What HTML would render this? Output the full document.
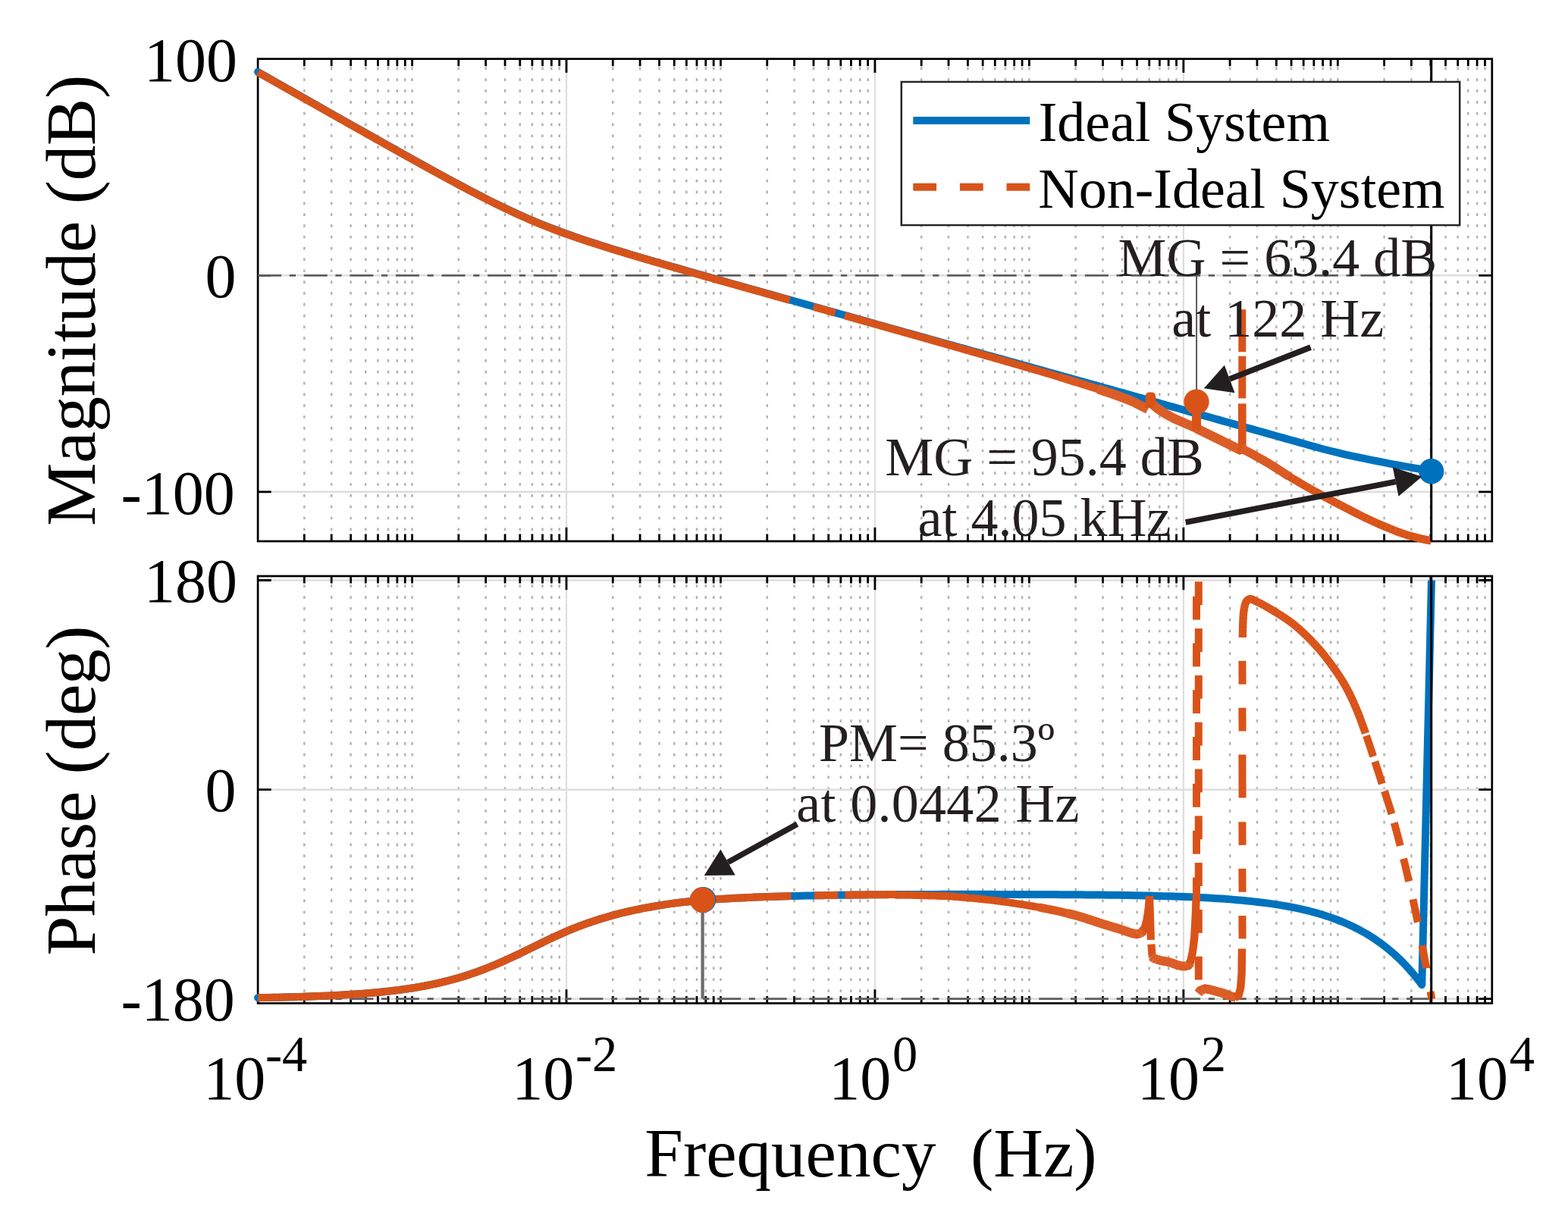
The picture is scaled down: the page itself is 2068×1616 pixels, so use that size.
<!DOCTYPE html>
<html lang="en">
<head>
<meta charset="utf-8">
<title>Bode plot: Ideal System vs Non-Ideal System</title>
<style>
html,body{margin:0;padding:0;background:#fff;}
body{width:2068px;height:1616px;overflow:hidden;}
svg{display:block;font-family:"Liberation Serif","DejaVu Serif",serif;}
</style>
</head>
<body>
<svg width="2068" height="1616" viewBox="0 0 2068 1616" role="img" aria-label="Bode plot comparing Ideal System and Non-Ideal System">
<rect x="0" y="0" width="2068" height="1616" fill="#fff"/>
<path d="M401.35,88.44 V714.00 M437.18,88.44 V714.00 M462.60,88.44 V714.00 M482.31,88.44 V714.00 M498.42,88.44 V714.00 M512.05,88.44 V714.00 M523.84,88.44 V714.00 M534.25,88.44 V714.00 M543.56,88.44 V714.00 M604.81,88.44 V714.00 M640.64,88.44 V714.00 M666.06,88.44 V714.00 M685.78,88.44 V714.00 M701.89,88.44 V714.00 M715.51,88.44 V714.00 M727.31,88.44 V714.00 M737.72,88.44 V714.00 M808.27,88.44 V714.00 M844.10,88.44 V714.00 M869.52,88.44 V714.00 M889.24,88.44 V714.00 M905.35,88.44 V714.00 M918.97,88.44 V714.00 M930.77,88.44 V714.00 M941.18,88.44 V714.00 M950.49,88.44 V714.00 M1011.74,88.44 V714.00 M1047.56,88.44 V714.00 M1072.98,88.44 V714.00 M1092.70,88.44 V714.00 M1108.81,88.44 V714.00 M1122.43,88.44 V714.00 M1134.23,88.44 V714.00 M1144.64,88.44 V714.00 M1215.20,88.44 V714.00 M1251.03,88.44 V714.00 M1276.45,88.44 V714.00 M1296.16,88.44 V714.00 M1312.27,88.44 V714.00 M1325.90,88.44 V714.00 M1337.69,88.44 V714.00 M1348.10,88.44 V714.00 M1357.41,88.44 V714.00 M1418.66,88.44 V714.00 M1454.49,88.44 V714.00 M1479.91,88.44 V714.00 M1499.63,88.44 V714.00 M1515.74,88.44 V714.00 M1529.36,88.44 V714.00 M1541.16,88.44 V714.00 M1551.57,88.44 V714.00 M1622.12,88.44 V714.00 M1657.95,88.44 V714.00 M1683.37,88.44 V714.00 M1703.09,88.44 V714.00 M1719.20,88.44 V714.00 M1732.82,88.44 V714.00 M1744.62,88.44 V714.00 M1755.03,88.44 V714.00 M1764.34,88.44 V714.00 M1825.59,88.44 V714.00 M1861.41,88.44 V714.00 M1886.83,88.44 V714.00 M1906.55,88.44 V714.00 M1922.66,88.44 V714.00 M1936.28,88.44 V714.00 M1948.08,88.44 V714.00 M1958.49,88.44 V714.00" fill="none" stroke="#b3b3b3" stroke-width="2.5" stroke-dasharray="3.70 11.13"/>
<line x1="747.02" y1="77.70" x2="747.02" y2="714.00" stroke="#dedede" stroke-width="2.2" />
<line x1="1153.95" y1="77.70" x2="1153.95" y2="714.00" stroke="#dedede" stroke-width="2.2" />
<line x1="1560.88" y1="77.70" x2="1560.88" y2="714.00" stroke="#dedede" stroke-width="2.2" />
<line x1="340.10" y1="363.30" x2="1967.80" y2="363.30" stroke="#dedede" stroke-width="2.6" />
<line x1="340.10" y1="648.90" x2="1967.80" y2="648.90" stroke="#dedede" stroke-width="2.6" />
<rect x="340.10" y="77.70" width="1627.70" height="636.30" fill="none" stroke="#000" stroke-width="2.7"/>
<path d="M401.35,77.70 v9.6 M401.35,714.00 v-9.6 M437.18,77.70 v9.6 M437.18,714.00 v-9.6 M462.60,77.70 v9.6 M462.60,714.00 v-9.6 M482.31,77.70 v9.6 M482.31,714.00 v-9.6 M498.42,77.70 v9.6 M498.42,714.00 v-9.6 M512.05,77.70 v9.6 M512.05,714.00 v-9.6 M523.84,77.70 v9.6 M523.84,714.00 v-9.6 M534.25,77.70 v9.6 M534.25,714.00 v-9.6 M543.56,77.70 v9.6 M543.56,714.00 v-9.6 M604.81,77.70 v9.6 M604.81,714.00 v-9.6 M640.64,77.70 v9.6 M640.64,714.00 v-9.6 M666.06,77.70 v9.6 M666.06,714.00 v-9.6 M685.78,77.70 v9.6 M685.78,714.00 v-9.6 M701.89,77.70 v9.6 M701.89,714.00 v-9.6 M715.51,77.70 v9.6 M715.51,714.00 v-9.6 M727.31,77.70 v9.6 M727.31,714.00 v-9.6 M737.72,77.70 v9.6 M737.72,714.00 v-9.6 M747.02,77.70 v18.3 M747.02,714.00 v-18.3 M808.27,77.70 v9.6 M808.27,714.00 v-9.6 M844.10,77.70 v9.6 M844.10,714.00 v-9.6 M869.52,77.70 v9.6 M869.52,714.00 v-9.6 M889.24,77.70 v9.6 M889.24,714.00 v-9.6 M905.35,77.70 v9.6 M905.35,714.00 v-9.6 M918.97,77.70 v9.6 M918.97,714.00 v-9.6 M930.77,77.70 v9.6 M930.77,714.00 v-9.6 M941.18,77.70 v9.6 M941.18,714.00 v-9.6 M950.49,77.70 v9.6 M950.49,714.00 v-9.6 M1011.74,77.70 v9.6 M1011.74,714.00 v-9.6 M1047.56,77.70 v9.6 M1047.56,714.00 v-9.6 M1072.98,77.70 v9.6 M1072.98,714.00 v-9.6 M1092.70,77.70 v9.6 M1092.70,714.00 v-9.6 M1108.81,77.70 v9.6 M1108.81,714.00 v-9.6 M1122.43,77.70 v9.6 M1122.43,714.00 v-9.6 M1134.23,77.70 v9.6 M1134.23,714.00 v-9.6 M1144.64,77.70 v9.6 M1144.64,714.00 v-9.6 M1153.95,77.70 v18.3 M1153.95,714.00 v-18.3 M1215.20,77.70 v9.6 M1215.20,714.00 v-9.6 M1251.03,77.70 v9.6 M1251.03,714.00 v-9.6 M1276.45,77.70 v9.6 M1276.45,714.00 v-9.6 M1296.16,77.70 v9.6 M1296.16,714.00 v-9.6 M1312.27,77.70 v9.6 M1312.27,714.00 v-9.6 M1325.90,77.70 v9.6 M1325.90,714.00 v-9.6 M1337.69,77.70 v9.6 M1337.69,714.00 v-9.6 M1348.10,77.70 v9.6 M1348.10,714.00 v-9.6 M1357.41,77.70 v9.6 M1357.41,714.00 v-9.6 M1418.66,77.70 v9.6 M1418.66,714.00 v-9.6 M1454.49,77.70 v9.6 M1454.49,714.00 v-9.6 M1479.91,77.70 v9.6 M1479.91,714.00 v-9.6 M1499.63,77.70 v9.6 M1499.63,714.00 v-9.6 M1515.74,77.70 v9.6 M1515.74,714.00 v-9.6 M1529.36,77.70 v9.6 M1529.36,714.00 v-9.6 M1541.16,77.70 v9.6 M1541.16,714.00 v-9.6 M1551.57,77.70 v9.6 M1551.57,714.00 v-9.6 M1560.88,77.70 v18.3 M1560.88,714.00 v-18.3 M1622.12,77.70 v9.6 M1622.12,714.00 v-9.6 M1657.95,77.70 v9.6 M1657.95,714.00 v-9.6 M1683.37,77.70 v9.6 M1683.37,714.00 v-9.6 M1703.09,77.70 v9.6 M1703.09,714.00 v-9.6 M1719.20,77.70 v9.6 M1719.20,714.00 v-9.6 M1732.82,77.70 v9.6 M1732.82,714.00 v-9.6 M1744.62,77.70 v9.6 M1744.62,714.00 v-9.6 M1755.03,77.70 v9.6 M1755.03,714.00 v-9.6 M1764.34,77.70 v9.6 M1764.34,714.00 v-9.6 M1825.59,77.70 v9.6 M1825.59,714.00 v-9.6 M1861.41,77.70 v9.6 M1861.41,714.00 v-9.6 M1886.83,77.70 v9.6 M1886.83,714.00 v-9.6 M1906.55,77.70 v9.6 M1906.55,714.00 v-9.6 M1922.66,77.70 v9.6 M1922.66,714.00 v-9.6 M1936.28,77.70 v9.6 M1936.28,714.00 v-9.6 M1948.08,77.70 v9.6 M1948.08,714.00 v-9.6 M1958.49,77.70 v9.6 M1958.49,714.00 v-9.6 M340.10,363.30 h17.6 M1967.80,363.30 h-17.6 M340.10,648.90 h17.6 M1967.80,648.90 h-17.6" fill="none" stroke="#000" stroke-width="2.8"/>
<line x1="340.10" y1="363.30" x2="1887.70" y2="363.30" stroke="#5f5f5f" stroke-width="2.8" stroke-dasharray="31 10.7 8.2 10.7"/>
<line x1="1578.10" y1="363.30" x2="1578.10" y2="530.00" stroke="#595959" stroke-width="2.0" />
<path d="M340.10,94.94 L346.08,98.33 L352.05,101.72 L358.03,105.11 L364.00,108.50 L369.98,111.88 L375.95,115.27 L381.93,118.66 L387.90,122.05 L393.88,125.43 L399.85,128.82 L405.83,132.21 L411.80,135.59 L417.78,138.97 L423.75,142.36 L429.73,145.74 L435.70,149.12 L441.68,152.49 L447.66,155.87 L453.63,159.25 L459.61,162.62 L465.58,165.99 L471.56,169.37 L477.53,172.73 L483.51,176.10 L489.48,179.46 L495.46,182.82 L501.43,186.18 L507.41,189.54 L513.38,192.89 L519.36,196.23 L525.33,199.58 L531.31,202.91 L537.28,206.24 L543.26,209.57 L549.24,212.89 L555.21,216.20 L561.19,219.50 L567.16,222.79 L573.14,226.07 L579.11,229.34 L585.09,232.60 L591.06,235.85 L597.04,239.08 L603.01,242.29 L608.99,245.48 L614.96,248.66 L620.94,251.81 L626.91,254.93 L632.89,258.02 L638.86,261.08 L644.84,264.11 L650.82,267.10 L656.79,270.05 L662.77,272.96 L668.74,275.82 L674.72,278.63 L680.69,281.39 L686.67,284.10 L692.64,286.75 L698.62,289.35 L704.59,291.89 L710.57,294.38 L716.54,296.81 L722.52,299.18 L728.49,301.51 L734.47,303.77 L740.44,305.99 L746.42,308.16 L752.39,310.29 L758.37,312.37 L764.35,314.42 L770.32,316.43 L776.30,318.41 L782.27,320.36 L788.25,322.28 L794.22,324.18 L800.20,326.06 L806.17,327.91 L812.15,329.75 L818.12,331.58 L824.10,333.39 L830.07,335.18 L836.05,336.97 L842.02,338.74 L848.00,340.50 L853.97,342.26 L859.95,344.01 L865.93,345.75 L871.90,347.49 L877.88,349.22 L883.85,350.95 L889.83,352.67 L895.80,354.39 L901.78,356.10 L907.75,357.81 L913.73,359.51 L919.70,361.22 L925.68,362.92 L931.65,364.61 L937.63,366.30 L943.60,367.99 L949.58,369.68 L955.55,371.36 L961.53,373.04 L967.51,374.73 L973.48,376.41 L979.46,378.09 L985.43,379.77 L991.41,381.45 L997.38,383.13 L1003.36,384.81 L1009.33,386.49 L1015.31,388.17 L1021.28,389.85 L1027.26,391.53 L1033.23,393.20 L1039.21,394.88 L1045.18,396.56 L1051.16,398.24 L1057.13,399.92 L1063.11,401.59 L1069.09,403.27 L1075.06,404.95 L1081.04,406.63 L1087.01,408.31 L1092.99,409.98 L1098.96,411.66 L1104.94,413.34 L1110.91,415.02 L1116.89,416.69 L1122.86,418.37 L1128.84,420.05 L1134.81,421.73 L1140.79,423.41 L1146.76,425.08 L1152.74,426.76 L1158.71,428.44 L1164.69,430.11 L1170.67,431.79 L1176.64,433.46 L1182.62,435.13 L1188.59,436.80 L1194.57,438.48 L1200.54,440.15 L1206.52,441.81 L1212.49,443.48 L1218.47,445.15 L1224.44,446.82 L1230.42,448.48 L1236.39,450.15 L1242.37,451.81 L1248.34,453.48 L1254.32,455.14 L1260.29,456.81 L1266.27,458.47 L1272.25,460.13 L1278.22,461.80 L1284.20,463.46 L1290.17,465.12 L1296.15,466.78 L1302.12,468.45 L1308.10,470.11 L1314.07,471.77 L1320.05,473.43 L1326.02,475.09 L1332.00,476.75 L1337.97,478.42 L1343.95,480.08 L1349.92,481.74 L1355.90,483.40 L1361.87,485.06 L1367.85,486.73 L1373.83,488.39 L1379.80,490.05 L1385.78,491.72 L1391.75,493.38 L1397.73,495.05 L1403.70,496.71 L1409.68,498.38 L1415.65,500.04 L1421.63,501.71 L1427.60,503.38 L1433.58,505.05 L1439.55,506.72 L1445.53,508.39 L1451.50,510.06 L1457.48,511.73 L1463.45,513.40 L1469.43,515.07 L1475.41,516.75 L1481.38,518.42 L1487.36,520.10 L1493.33,521.78 L1499.31,523.46 L1505.28,525.13 L1511.26,526.81 L1517.23,528.49 L1523.21,530.17 L1529.18,531.84 L1535.16,533.52 L1541.13,535.20 L1547.11,536.88 L1553.08,538.55 L1559.06,540.23 L1565.03,541.91 L1571.01,543.59 L1576.98,545.26 L1582.96,546.94 L1588.94,548.62 L1594.91,550.30 L1600.89,551.97 L1606.86,553.65 L1612.84,555.33 L1618.81,557.01 L1624.79,558.68 L1630.76,560.36 L1636.74,562.04 L1642.71,563.72 L1648.69,565.39 L1654.66,567.07 L1660.64,568.75 L1666.61,570.43 L1672.59,572.10 L1678.56,573.78 L1684.54,575.46 L1690.52,577.14 L1696.49,578.81 L1702.47,580.49 L1708.44,582.17 L1714.42,583.85 L1720.39,585.52 L1726.37,587.20 L1732.34,588.88 L1738.32,590.56 L1744.29,592.20 L1750.27,593.75 L1756.24,595.23 L1762.22,596.68 L1768.19,598.12 L1774.17,599.52 L1780.14,600.87 L1786.12,602.17 L1792.10,603.43 L1798.07,604.67 L1804.05,605.88 L1810.02,607.08 L1816.00,608.27 L1821.97,609.45 L1827.95,610.64 L1833.92,611.80 L1839.90,612.93 L1845.87,614.04 L1851.85,615.13 L1857.82,616.20 L1863.80,617.26 L1869.77,618.30 L1875.75,619.32 L1881.72,620.32 L1887.70,621.29" fill="none" stroke="#0072BD" stroke-width="10.0" stroke-linecap="round" stroke-linejoin="round"/>
<path d="M340.10,95.24 L344.81,97.91 L349.51,100.58 L354.22,103.25 L358.93,105.92 L363.64,108.59 L368.34,111.26 L373.05,113.93 L377.76,116.60 L382.47,119.27 L387.17,121.94 L391.88,124.60 L396.59,127.27 L401.30,129.94 L406.00,132.60 L410.71,135.27 L415.42,137.94 L420.13,140.60 L424.83,143.27 L429.54,145.93 L434.25,148.59 L438.96,151.26 L443.66,153.92 L448.37,156.58 L453.08,159.24 L457.78,161.90 L462.49,164.55 L467.20,167.21 L471.91,169.86 L476.61,172.52 L481.32,175.17 L486.03,177.82 L490.74,180.47 L495.44,183.12 L500.15,185.76 L504.86,188.41 L509.57,191.05 L514.27,193.69 L518.98,196.32 L523.69,198.96 L528.40,201.59 L533.10,204.22 L537.81,206.84 L542.52,209.46 L547.22,212.07 L551.93,214.69 L556.64,217.29 L561.35,219.89 L566.05,222.49 L570.76,225.07 L575.47,227.66 L580.18,230.23 L584.88,232.80 L589.59,235.36 L594.30,237.91 L599.01,240.45 L603.71,242.97 L608.42,245.49 L613.13,247.99 L617.84,250.48 L622.54,252.95 L627.25,255.41 L631.96,257.85 L636.67,260.27 L641.37,262.67 L646.08,265.04 L650.79,267.40 L655.49,269.72 L660.20,272.03 L664.91,274.30 L669.62,276.54 L674.32,278.76 L679.03,280.94 L683.74,283.09 L688.45,285.21 L693.15,287.29 L697.86,289.34 L702.57,291.35 L707.28,293.33 L711.98,295.28 L716.69,297.19 L721.40,299.06 L726.11,300.90 L730.81,302.71 L735.52,304.48 L740.23,306.23 L744.93,307.95 L749.64,309.63 L754.35,311.29 L759.06,312.93 L763.76,314.54 L768.47,316.13 L773.18,317.70 L777.89,319.25 L782.59,320.79 L787.30,322.30 L792.01,323.80 L796.72,325.29 L801.42,326.77 L806.13,328.23 L810.84,329.68 L815.55,331.12 L820.25,332.55 L824.96,333.97 L829.67,335.39 L834.38,336.80 L839.08,338.20 L843.79,339.59 L848.50,340.98 L853.20,342.37 L857.91,343.75 L862.62,345.12 L867.33,346.50 L872.03,347.86 L876.74,349.23 L881.45,350.59 L886.16,351.95 L890.86,353.31 L895.57,354.66 L900.28,356.01 L904.99,357.36 L909.69,358.71 L914.40,360.05 L919.11,361.39 L923.82,362.73 L928.52,364.07 L933.23,365.40 L937.94,366.74 L942.64,368.07 L947.35,369.40 L952.06,370.73 L956.77,372.05 L961.47,373.38 L966.18,374.71 L970.89,376.03 L975.60,377.36 L980.30,378.68 L985.01,380.01 L989.72,381.33 L994.43,382.66 L999.13,383.98 L1003.84,385.31 L1008.55,386.63 L1013.26,387.95 L1017.96,389.28 L1022.67,390.60 L1027.38,391.93 L1032.09,393.25 L1036.79,394.57 L1041.50,395.90" fill="none" stroke="#D95319" stroke-width="10.0" stroke-linejoin="round"/>
<path d="M340.10,95.24 L344.81,97.91 L349.51,100.58 L354.22,103.25 L358.93,105.92 L363.64,108.59 L368.34,111.26 L373.05,113.93 L377.76,116.60 L382.47,119.27 L387.17,121.94 L391.88,124.60 L396.59,127.27 L401.30,129.94 L406.00,132.60 L410.71,135.27 L415.42,137.94 L420.13,140.60 L424.83,143.27 L429.54,145.93 L434.25,148.59 L438.96,151.26 L443.66,153.92 L448.37,156.58 L453.08,159.24 L457.78,161.90 L462.49,164.55 L467.20,167.21 L471.91,169.86 L476.61,172.52 L481.32,175.17 L486.03,177.82 L490.74,180.47 L495.44,183.12 L500.15,185.76 L504.86,188.41 L509.57,191.05 L514.27,193.69 L518.98,196.32 L523.69,198.96 L528.40,201.59 L533.10,204.22 L537.81,206.84 L542.52,209.46 L547.22,212.07 L551.93,214.69 L556.64,217.29 L561.35,219.89 L566.05,222.49 L570.76,225.07 L575.47,227.66 L580.18,230.23 L584.88,232.80 L589.59,235.36 L594.30,237.91 L599.01,240.45 L603.71,242.97 L608.42,245.49 L613.13,247.99 L617.84,250.48 L622.54,252.95 L627.25,255.41 L631.96,257.85 L636.67,260.27 L641.37,262.67 L646.08,265.04 L650.79,267.40 L655.49,269.72 L660.20,272.03 L664.91,274.30 L669.62,276.54 L674.32,278.76 L679.03,280.94 L683.74,283.09 L688.45,285.21 L693.15,287.29 L697.86,289.34 L702.57,291.35 L707.28,293.33 L711.98,295.28 L716.69,297.19 L721.40,299.06 L726.11,300.90 L730.81,302.71 L735.52,304.48 L740.23,306.23 L744.93,307.95 L749.64,309.63 L754.35,311.29 L759.06,312.93 L763.76,314.54 L768.47,316.13 L773.18,317.70 L777.89,319.25 L782.59,320.79 L787.30,322.30 L792.01,323.80 L796.72,325.29 L801.42,326.77 L806.13,328.23 L810.84,329.68 L815.55,331.12 L820.25,332.55 L824.96,333.97 L829.67,335.39 L834.38,336.80 L839.08,338.20 L843.79,339.59 L848.50,340.98 L853.20,342.37 L857.91,343.75 L862.62,345.12 L867.33,346.50 L872.03,347.86 L876.74,349.23 L881.45,350.59 L886.16,351.95 L890.86,353.31 L895.57,354.66 L900.28,356.01 L904.99,357.36 L909.69,358.71 L914.40,360.05 L919.11,361.39 L923.82,362.73 L928.52,364.07 L933.23,365.40 L937.94,366.74 L942.64,368.07 L947.35,369.40 L952.06,370.73 L956.77,372.05 L961.47,373.38 L966.18,374.71 L970.89,376.03 L975.60,377.36 L980.30,378.68 L985.01,380.01 L989.72,381.33 L994.43,382.66 L999.13,383.98 L1003.84,385.31 L1008.55,386.63 L1013.26,387.95 L1017.96,389.28 L1022.67,390.60 L1027.38,391.93 L1032.09,393.25 L1036.79,394.57 L1041.50,395.90" fill="none" stroke="#7a5a4a" stroke-width="10.0" stroke-opacity="0.45" stroke-dasharray="0.6 13.2"/>
<path d="M1072.80,404.69 L1075.99,405.59 L1079.18,406.49 L1082.37,407.38 L1085.56,408.28 L1088.74,409.18 L1091.93,410.07 L1095.12,410.97 L1098.31,411.86 L1101.50,412.76" fill="none" stroke="#D95319" stroke-width="10.0" stroke-linejoin="round"/>
<path d="M1114.00,416.27 L1118.85,417.64 L1123.69,419.00 L1128.54,420.36 L1133.39,421.72 L1138.24,423.09 L1143.08,424.45 L1147.93,425.81 L1152.78,427.17 L1157.63,428.54 L1162.47,429.90 L1167.32,431.27 L1172.17,432.64 L1177.02,434.01 L1181.86,435.38 L1186.71,436.75 L1191.56,438.13 L1196.41,439.50 L1201.25,440.88 L1206.10,442.25 L1210.95,443.63 L1215.80,445.01 L1220.64,446.39 L1225.49,447.77 L1230.34,449.15 L1235.19,450.53 L1240.03,451.91 L1244.88,453.29 L1249.73,454.67 L1254.58,456.05 L1259.42,457.43 L1264.27,458.81 L1269.12,460.19 L1273.97,461.57 L1278.81,462.95 L1283.66,464.34 L1288.51,465.72 L1293.36,467.10 L1298.20,468.49 L1303.05,469.88 L1307.90,471.27 L1312.75,472.66 L1317.59,474.05 L1322.44,475.45 L1327.29,476.85 L1332.14,478.25 L1336.98,479.65 L1341.83,481.06 L1346.68,482.46 L1351.53,483.87 L1356.37,485.29 L1361.22,486.70 L1366.07,488.12 L1370.92,489.54 L1375.76,490.96 L1380.61,492.39 L1385.46,493.82 L1390.31,495.26 L1395.15,496.71 L1400.00,498.17" fill="none" stroke="#D95319" stroke-width="10.0" stroke-linejoin="round"/>
<path d="M1114.00,416.27 L1118.85,417.64 L1123.69,419.00 L1128.54,420.36 L1133.39,421.72 L1138.24,423.09 L1143.08,424.45 L1147.93,425.81 L1152.78,427.17 L1157.63,428.54 L1162.47,429.90 L1167.32,431.27 L1172.17,432.64 L1177.02,434.01 L1181.86,435.38 L1186.71,436.75 L1191.56,438.13 L1196.41,439.50 L1201.25,440.88 L1206.10,442.25 L1210.95,443.63 L1215.80,445.01 L1220.64,446.39 L1225.49,447.77 L1230.34,449.15 L1235.19,450.53 L1240.03,451.91 L1244.88,453.29 L1249.73,454.67 L1254.58,456.05 L1259.42,457.43 L1264.27,458.81 L1269.12,460.19 L1273.97,461.57 L1278.81,462.95 L1283.66,464.34 L1288.51,465.72 L1293.36,467.10 L1298.20,468.49 L1303.05,469.88 L1307.90,471.27 L1312.75,472.66 L1317.59,474.05 L1322.44,475.45 L1327.29,476.85 L1332.14,478.25 L1336.98,479.65 L1341.83,481.06 L1346.68,482.46 L1351.53,483.87 L1356.37,485.29 L1361.22,486.70 L1366.07,488.12 L1370.92,489.54 L1375.76,490.96 L1380.61,492.39 L1385.46,493.82 L1390.31,495.26 L1395.15,496.71 L1400.00,498.17" fill="none" stroke="#7a5a4a" stroke-width="10.0" stroke-opacity="0.45" stroke-dasharray="0.6 13.2"/>
<path d="M1398.00,497.57 L1402.73,498.99 L1407.45,500.42 L1412.18,501.86 L1416.91,503.31 L1421.64,504.76 L1426.36,506.23 L1431.09,507.71 L1435.82,509.21 L1440.55,510.72 L1445.27,512.25 L1450.00,513.80" fill="none" stroke="#D95319" stroke-width="10.6" stroke-linejoin="round"/>
<path d="M1398.00,497.57 L1402.73,498.99 L1407.45,500.42 L1412.18,501.86 L1416.91,503.31 L1421.64,504.76 L1426.36,506.23 L1431.09,507.71 L1435.82,509.21 L1440.55,510.72 L1445.27,512.25 L1450.00,513.80" fill="none" stroke="#fff" stroke-width="11.2" stroke-linejoin="round" stroke-opacity="0.15" stroke-dasharray="0.45 1.55"/>
<path d="M1448.00,513.14 L1452.40,514.60 L1456.80,516.07 L1461.20,517.57 L1465.60,519.09 L1470.00,520.64 L1474.40,522.21 L1478.80,523.82 L1483.20,525.45 L1487.60,527.12 L1492.00,528.87 L1496.40,530.95 L1500.80,533.25 L1505.20,535.54 L1509.60,537.78 L1514.00,540.05" fill="none" stroke="#D95319" stroke-width="12.4" stroke-linejoin="round"/>
<path d="M1448.00,513.14 L1452.40,514.60 L1456.80,516.07 L1461.20,517.57 L1465.60,519.09 L1470.00,520.64 L1474.40,522.21 L1478.80,523.82 L1483.20,525.45 L1487.60,527.12 L1492.00,528.87 L1496.40,530.95 L1500.80,533.25 L1505.20,535.54 L1509.60,537.78 L1514.00,540.05" fill="none" stroke="#fff" stroke-width="13.0" stroke-linejoin="round" stroke-opacity="0.28" stroke-dasharray="0.45 1.55"/>
<path d="M1518.00,531.00 L1522.03,535.08 L1526.07,538.41 L1530.10,541.34 L1534.13,544.00 L1538.17,546.44 L1542.20,548.72 L1546.23,550.86 L1550.27,552.83 L1554.30,554.67 L1558.33,556.43 L1562.37,558.14 L1566.40,559.87 L1570.43,561.61 L1574.47,563.32 L1578.50,565.00" fill="none" stroke="#D95319" stroke-width="12.4" stroke-linejoin="round"/>
<path d="M1518.00,531.00 L1522.03,535.08 L1526.07,538.41 L1530.10,541.34 L1534.13,544.00 L1538.17,546.44 L1542.20,548.72 L1546.23,550.86 L1550.27,552.83 L1554.30,554.67 L1558.33,556.43 L1562.37,558.14 L1566.40,559.87 L1570.43,561.61 L1574.47,563.32 L1578.50,565.00" fill="none" stroke="#fff" stroke-width="13.0" stroke-linejoin="round" stroke-opacity="0.28" stroke-dasharray="0.45 1.55"/>
<path d="M1515.60,538.00 L1515.60,522.50 L1519.20,522.50 L1519.20,534.00" fill="none" stroke="#D95319" stroke-width="10.0" stroke-linejoin="round"/>
<path d="M1577.50,565.00 L1581.57,566.94 L1585.63,568.90 L1589.70,570.86 L1593.77,572.84 L1597.83,574.84 L1601.90,576.84 L1605.97,578.83 L1610.03,580.83 L1614.10,582.83 L1618.17,584.83 L1622.23,586.83 L1626.30,588.83 L1630.37,590.82 L1634.43,592.81 L1638.50,594.80" fill="none" stroke="#D95319" stroke-width="12.4" stroke-linejoin="round"/>
<path d="M1577.50,565.00 L1581.57,566.94 L1585.63,568.90 L1589.70,570.86 L1593.77,572.84 L1597.83,574.84 L1601.90,576.84 L1605.97,578.83 L1610.03,580.83 L1614.10,582.83 L1618.17,584.83 L1622.23,586.83 L1626.30,588.83 L1630.37,590.82 L1634.43,592.81 L1638.50,594.80" fill="none" stroke="#fff" stroke-width="13.0" stroke-linejoin="round" stroke-opacity="0.28" stroke-dasharray="0.45 1.55"/>
<path d="M1578.00,568.00 L1578.00,530.00" fill="none" stroke="#D95319" stroke-width="12.0" stroke-linejoin="round"/>
<path d="M1638.30,599.00 L1638.30,532.40" fill="none" stroke="#D95319" stroke-width="10.6" stroke-linejoin="round"/>
<path d="M1638.30,525.50 L1638.30,469.80" fill="none" stroke="#D95319" stroke-width="10.0" stroke-linejoin="round"/>
<path d="M1638.30,464.30 L1638.30,408.20" fill="none" stroke="#D95319" stroke-width="10.0" stroke-linejoin="round"/>
<path d="M1638.00,592.00 L1642.77,594.41 L1647.54,596.89 L1652.31,599.43 L1657.08,602.04 L1661.85,604.70 L1666.62,607.41 L1671.38,610.18 L1676.15,613.04 L1680.92,616.05 L1685.69,619.14 L1690.46,622.26 L1695.23,625.35 L1700.00,628.36" fill="none" stroke="#D95319" stroke-width="11.6" stroke-linejoin="round"/>
<path d="M1638.00,592.00 L1642.77,594.41 L1647.54,596.89 L1652.31,599.43 L1657.08,602.04 L1661.85,604.70 L1666.62,607.41 L1671.38,610.18 L1676.15,613.04 L1680.92,616.05 L1685.69,619.14 L1690.46,622.26 L1695.23,625.35 L1700.00,628.36" fill="none" stroke="#fff" stroke-width="12.2" stroke-linejoin="round" stroke-opacity="0.22" stroke-dasharray="0.45 1.55"/>
<path d="M1699.00,627.74 L1703.84,630.68 L1708.67,633.56 L1713.51,636.40 L1718.34,639.22 L1723.18,642.01 L1728.02,644.77 L1732.85,647.50 L1737.69,650.20 L1742.52,652.88 L1747.36,655.52 L1752.19,658.13 L1757.03,660.71 L1761.87,663.26 L1766.70,665.78 L1771.54,668.29 L1776.37,670.80 L1781.21,673.29 L1786.05,675.76 L1790.88,678.21 L1795.72,680.62 L1800.55,682.99 L1805.39,685.31 L1810.23,687.57 L1815.06,689.77 L1819.90,691.90 L1824.73,693.96 L1829.57,695.95 L1834.41,697.92 L1839.24,699.84 L1844.08,701.69 L1848.91,703.44 L1853.75,705.09 L1858.58,706.59 L1863.42,707.95 L1868.26,709.23 L1873.09,710.42 L1877.93,711.52 L1882.76,712.51 L1887.60,713.40" fill="none" stroke="#D95319" stroke-width="10.6" stroke-linejoin="round"/>
<path d="M1699.00,627.74 L1703.84,630.68 L1708.67,633.56 L1713.51,636.40 L1718.34,639.22 L1723.18,642.01 L1728.02,644.77 L1732.85,647.50 L1737.69,650.20 L1742.52,652.88 L1747.36,655.52 L1752.19,658.13 L1757.03,660.71 L1761.87,663.26 L1766.70,665.78 L1771.54,668.29 L1776.37,670.80 L1781.21,673.29 L1786.05,675.76 L1790.88,678.21 L1795.72,680.62 L1800.55,682.99 L1805.39,685.31 L1810.23,687.57 L1815.06,689.77 L1819.90,691.90 L1824.73,693.96 L1829.57,695.95 L1834.41,697.92 L1839.24,699.84 L1844.08,701.69 L1848.91,703.44 L1853.75,705.09 L1858.58,706.59 L1863.42,707.95 L1868.26,709.23 L1873.09,710.42 L1877.93,711.52 L1882.76,712.51 L1887.60,713.40" fill="none" stroke="#fff" stroke-width="11.2" stroke-linejoin="round" stroke-opacity="0.12" stroke-dasharray="0.6 6"/>
<line x1="1887.70" y1="77.70" x2="1887.70" y2="714.00" stroke="#000" stroke-width="3.1" />
<circle cx="1578.0" cy="530.1" r="16.7" fill="#D95319"/>
<circle cx="1887.7" cy="621.8" r="16.7" fill="#0072BD"/>
<rect x="1188.8" y="108.0" width="736.4" height="189.0" fill="#fff" stroke="#262626" stroke-width="2.5"/>
<line x1="1204.30" y1="159.00" x2="1358.30" y2="159.00" stroke="#0072BD" stroke-width="10.0" />
<line x1="1204.30" y1="246.80" x2="1358.30" y2="246.80" stroke="#D95319" stroke-width="10.0" stroke-dasharray="30.8 30.8"/>
<text transform="translate(1369.70,186.20) scale(1,1)" font-size="74" text-anchor="start" fill="#000" >Ideal System</text>
<text transform="translate(1369.20,273.80) scale(1,1)" font-size="74" text-anchor="start" fill="#000" >Non-Ideal System</text>
<path d="M401.35,771.35 V1323.50 M437.18,771.35 V1323.50 M462.60,771.35 V1323.50 M482.31,771.35 V1323.50 M498.42,771.35 V1323.50 M512.05,771.35 V1323.50 M523.84,771.35 V1323.50 M534.25,771.35 V1323.50 M543.56,771.35 V1323.50 M604.81,771.35 V1323.50 M640.64,771.35 V1323.50 M666.06,771.35 V1323.50 M685.78,771.35 V1323.50 M701.89,771.35 V1323.50 M715.51,771.35 V1323.50 M727.31,771.35 V1323.50 M737.72,771.35 V1323.50 M808.27,771.35 V1323.50 M844.10,771.35 V1323.50 M869.52,771.35 V1323.50 M889.24,771.35 V1323.50 M905.35,771.35 V1323.50 M918.97,771.35 V1323.50 M930.77,771.35 V1323.50 M941.18,771.35 V1323.50 M950.49,771.35 V1323.50 M1011.74,771.35 V1323.50 M1047.56,771.35 V1323.50 M1072.98,771.35 V1323.50 M1092.70,771.35 V1323.50 M1108.81,771.35 V1323.50 M1122.43,771.35 V1323.50 M1134.23,771.35 V1323.50 M1144.64,771.35 V1323.50 M1215.20,771.35 V1323.50 M1251.03,771.35 V1323.50 M1276.45,771.35 V1323.50 M1296.16,771.35 V1323.50 M1312.27,771.35 V1323.50 M1325.90,771.35 V1323.50 M1337.69,771.35 V1323.50 M1348.10,771.35 V1323.50 M1357.41,771.35 V1323.50 M1418.66,771.35 V1323.50 M1454.49,771.35 V1323.50 M1479.91,771.35 V1323.50 M1499.63,771.35 V1323.50 M1515.74,771.35 V1323.50 M1529.36,771.35 V1323.50 M1541.16,771.35 V1323.50 M1551.57,771.35 V1323.50 M1622.12,771.35 V1323.50 M1657.95,771.35 V1323.50 M1683.37,771.35 V1323.50 M1703.09,771.35 V1323.50 M1719.20,771.35 V1323.50 M1732.82,771.35 V1323.50 M1744.62,771.35 V1323.50 M1755.03,771.35 V1323.50 M1764.34,771.35 V1323.50 M1825.59,771.35 V1323.50 M1861.41,771.35 V1323.50 M1886.83,771.35 V1323.50 M1906.55,771.35 V1323.50 M1922.66,771.35 V1323.50 M1936.28,771.35 V1323.50 M1948.08,771.35 V1323.50 M1958.49,771.35 V1323.50" fill="none" stroke="#b3b3b3" stroke-width="2.5" stroke-dasharray="3.70 11.13"/>
<line x1="747.02" y1="760.00" x2="747.02" y2="1323.50" stroke="#dedede" stroke-width="2.2" />
<line x1="1153.95" y1="760.00" x2="1153.95" y2="1323.50" stroke="#dedede" stroke-width="2.2" />
<line x1="1560.88" y1="760.00" x2="1560.88" y2="1323.50" stroke="#dedede" stroke-width="2.2" />
<line x1="340.10" y1="765.50" x2="1967.80" y2="765.50" stroke="#dedede" stroke-width="2.6" />
<line x1="340.10" y1="1041.70" x2="1967.80" y2="1041.70" stroke="#dedede" stroke-width="2.6" />
<line x1="340.10" y1="1317.60" x2="1967.80" y2="1317.60" stroke="#dedede" stroke-width="2.6" />
<rect x="340.10" y="760.00" width="1627.70" height="563.50" fill="none" stroke="#000" stroke-width="2.7"/>
<path d="M401.35,760.00 v9.6 M401.35,1323.50 v-9.6 M437.18,760.00 v9.6 M437.18,1323.50 v-9.6 M462.60,760.00 v9.6 M462.60,1323.50 v-9.6 M482.31,760.00 v9.6 M482.31,1323.50 v-9.6 M498.42,760.00 v9.6 M498.42,1323.50 v-9.6 M512.05,760.00 v9.6 M512.05,1323.50 v-9.6 M523.84,760.00 v9.6 M523.84,1323.50 v-9.6 M534.25,760.00 v9.6 M534.25,1323.50 v-9.6 M543.56,760.00 v9.6 M543.56,1323.50 v-9.6 M604.81,760.00 v9.6 M604.81,1323.50 v-9.6 M640.64,760.00 v9.6 M640.64,1323.50 v-9.6 M666.06,760.00 v9.6 M666.06,1323.50 v-9.6 M685.78,760.00 v9.6 M685.78,1323.50 v-9.6 M701.89,760.00 v9.6 M701.89,1323.50 v-9.6 M715.51,760.00 v9.6 M715.51,1323.50 v-9.6 M727.31,760.00 v9.6 M727.31,1323.50 v-9.6 M737.72,760.00 v9.6 M737.72,1323.50 v-9.6 M747.02,760.00 v18.3 M747.02,1323.50 v-18.3 M808.27,760.00 v9.6 M808.27,1323.50 v-9.6 M844.10,760.00 v9.6 M844.10,1323.50 v-9.6 M869.52,760.00 v9.6 M869.52,1323.50 v-9.6 M889.24,760.00 v9.6 M889.24,1323.50 v-9.6 M905.35,760.00 v9.6 M905.35,1323.50 v-9.6 M918.97,760.00 v9.6 M918.97,1323.50 v-9.6 M930.77,760.00 v9.6 M930.77,1323.50 v-9.6 M941.18,760.00 v9.6 M941.18,1323.50 v-9.6 M950.49,760.00 v9.6 M950.49,1323.50 v-9.6 M1011.74,760.00 v9.6 M1011.74,1323.50 v-9.6 M1047.56,760.00 v9.6 M1047.56,1323.50 v-9.6 M1072.98,760.00 v9.6 M1072.98,1323.50 v-9.6 M1092.70,760.00 v9.6 M1092.70,1323.50 v-9.6 M1108.81,760.00 v9.6 M1108.81,1323.50 v-9.6 M1122.43,760.00 v9.6 M1122.43,1323.50 v-9.6 M1134.23,760.00 v9.6 M1134.23,1323.50 v-9.6 M1144.64,760.00 v9.6 M1144.64,1323.50 v-9.6 M1153.95,760.00 v18.3 M1153.95,1323.50 v-18.3 M1215.20,760.00 v9.6 M1215.20,1323.50 v-9.6 M1251.03,760.00 v9.6 M1251.03,1323.50 v-9.6 M1276.45,760.00 v9.6 M1276.45,1323.50 v-9.6 M1296.16,760.00 v9.6 M1296.16,1323.50 v-9.6 M1312.27,760.00 v9.6 M1312.27,1323.50 v-9.6 M1325.90,760.00 v9.6 M1325.90,1323.50 v-9.6 M1337.69,760.00 v9.6 M1337.69,1323.50 v-9.6 M1348.10,760.00 v9.6 M1348.10,1323.50 v-9.6 M1357.41,760.00 v9.6 M1357.41,1323.50 v-9.6 M1418.66,760.00 v9.6 M1418.66,1323.50 v-9.6 M1454.49,760.00 v9.6 M1454.49,1323.50 v-9.6 M1479.91,760.00 v9.6 M1479.91,1323.50 v-9.6 M1499.63,760.00 v9.6 M1499.63,1323.50 v-9.6 M1515.74,760.00 v9.6 M1515.74,1323.50 v-9.6 M1529.36,760.00 v9.6 M1529.36,1323.50 v-9.6 M1541.16,760.00 v9.6 M1541.16,1323.50 v-9.6 M1551.57,760.00 v9.6 M1551.57,1323.50 v-9.6 M1560.88,760.00 v18.3 M1560.88,1323.50 v-18.3 M1622.12,760.00 v9.6 M1622.12,1323.50 v-9.6 M1657.95,760.00 v9.6 M1657.95,1323.50 v-9.6 M1683.37,760.00 v9.6 M1683.37,1323.50 v-9.6 M1703.09,760.00 v9.6 M1703.09,1323.50 v-9.6 M1719.20,760.00 v9.6 M1719.20,1323.50 v-9.6 M1732.82,760.00 v9.6 M1732.82,1323.50 v-9.6 M1744.62,760.00 v9.6 M1744.62,1323.50 v-9.6 M1755.03,760.00 v9.6 M1755.03,1323.50 v-9.6 M1764.34,760.00 v9.6 M1764.34,1323.50 v-9.6 M1825.59,760.00 v9.6 M1825.59,1323.50 v-9.6 M1861.41,760.00 v9.6 M1861.41,1323.50 v-9.6 M1886.83,760.00 v9.6 M1886.83,1323.50 v-9.6 M1906.55,760.00 v9.6 M1906.55,1323.50 v-9.6 M1922.66,760.00 v9.6 M1922.66,1323.50 v-9.6 M1936.28,760.00 v9.6 M1936.28,1323.50 v-9.6 M1948.08,760.00 v9.6 M1948.08,1323.50 v-9.6 M1958.49,760.00 v9.6 M1958.49,1323.50 v-9.6 M340.10,765.50 h17.6 M1967.80,765.50 h-17.6 M340.10,1041.70 h17.6 M1967.80,1041.70 h-17.6 M340.10,1317.60 h17.6 M1967.80,1317.60 h-17.6" fill="none" stroke="#000" stroke-width="2.8"/>
<line x1="340.10" y1="1317.60" x2="1887.70" y2="1317.60" stroke="#5f5f5f" stroke-width="2.8" stroke-dasharray="31 10.7 8.2 10.7"/>
<line x1="926.60" y1="1187.00" x2="926.60" y2="1317.60" stroke="#6b6b6b" stroke-width="4.2" />
<clipPath id="cb"><rect x="300" y="765.50" width="1700" height="583.50"/></clipPath>
<g clip-path="url(#cb)">
<path d="M340.10,1316.17 L346.93,1316.06 L353.77,1315.93 L360.60,1315.80 L367.43,1315.65 L374.27,1315.50 L381.10,1315.33 L387.94,1315.15 L394.77,1314.95 L401.60,1314.74 L408.44,1314.51 L415.27,1314.26 L422.10,1313.99 L428.94,1313.70 L435.77,1313.38 L442.61,1313.05 L449.44,1312.68 L456.27,1312.29 L463.11,1311.86 L469.94,1311.40 L476.77,1310.90 L483.61,1310.37 L490.44,1309.79 L497.27,1309.16 L504.11,1308.49 L510.94,1307.76 L517.78,1306.98 L524.61,1306.14 L531.44,1305.23 L538.28,1304.25 L545.11,1303.19 L551.94,1302.06 L558.78,1300.83 L565.61,1299.52 L572.44,1298.11 L579.28,1296.60 L586.11,1294.99 L592.95,1293.26 L599.78,1291.41 L606.61,1289.44 L613.45,1287.35 L620.28,1285.12 L627.11,1282.77 L633.95,1280.28 L640.78,1277.67 L647.62,1274.92 L654.45,1272.06 L661.28,1269.10 L668.12,1266.04 L674.95,1262.89 L681.78,1259.67 L688.62,1256.40 L695.45,1253.08 L702.28,1249.75 L709.12,1246.41 L715.95,1243.09 L722.79,1239.81 L729.62,1236.58 L736.45,1233.43 L743.29,1230.36 L750.12,1227.40 L756.95,1224.58 L763.79,1221.90 L770.62,1219.37 L777.45,1216.96 L784.29,1214.69 L791.12,1212.52 L797.96,1210.45 L804.79,1208.47 L811.62,1206.57 L818.46,1204.78 L825.29,1203.10 L832.12,1201.54 L838.96,1200.08 L845.79,1198.72 L852.63,1197.44 L859.46,1196.21 L866.29,1195.03 L873.13,1193.90 L879.96,1192.84 L886.79,1191.86 L893.63,1190.96 L900.46,1190.15 L907.29,1189.42 L914.13,1188.74 L920.96,1188.12 L927.80,1187.54 L934.63,1187.00 L941.46,1186.51 L948.30,1186.05 L955.13,1185.62 L961.96,1185.23 L968.80,1184.86 L975.63,1184.52 L982.46,1184.20 L989.30,1183.90 L996.13,1183.62 L1002.97,1183.36 L1009.80,1183.11 L1016.63,1182.87 L1023.47,1182.65 L1030.30,1182.44 L1037.13,1182.24 L1043.97,1182.05 L1050.80,1181.88 L1057.64,1181.71 L1064.47,1181.55 L1071.30,1181.41 L1078.14,1181.27 L1084.97,1181.14 L1091.80,1181.03 L1098.64,1180.92 L1105.47,1180.82 L1112.30,1180.73 L1119.14,1180.64 L1125.97,1180.56 L1132.81,1180.48 L1139.64,1180.41 L1146.47,1180.34 L1153.31,1180.27 L1160.14,1180.21 L1166.97,1180.16 L1173.81,1180.11 L1180.64,1180.06 L1187.47,1180.02 L1194.31,1179.99 L1201.14,1179.96 L1207.98,1179.93 L1214.81,1179.91 L1221.64,1179.90 L1228.48,1179.89 L1235.31,1179.88 L1242.14,1179.87 L1248.98,1179.86 L1255.81,1179.85 L1262.65,1179.85 L1269.48,1179.85 L1276.31,1179.85 L1283.15,1179.85 L1289.98,1179.85 L1296.81,1179.85 L1303.65,1179.86 L1310.48,1179.87 L1317.31,1179.88 L1324.15,1179.89 L1330.98,1179.90 L1337.82,1179.92 L1344.65,1179.93 L1351.48,1179.95 L1358.32,1179.97 L1365.15,1180.00 L1371.98,1180.02 L1378.82,1180.05 L1385.65,1180.08 L1392.48,1180.12 L1399.32,1180.16 L1406.15,1180.20 L1412.99,1180.24 L1419.82,1180.29 L1426.65,1180.35 L1433.49,1180.40 L1440.32,1180.47 L1447.15,1180.54 L1453.99,1180.61 L1460.82,1180.69 L1467.66,1180.78 L1474.49,1180.87 L1481.32,1180.97 L1488.16,1181.08 L1494.99,1181.20 L1501.82,1181.33 L1508.66,1181.47 L1515.49,1181.62 L1522.32,1181.79 L1529.16,1181.96 L1535.99,1182.15 L1542.83,1182.36 L1549.66,1182.58 L1556.49,1182.82 L1563.33,1183.08 L1570.16,1183.37 L1576.99,1183.67 L1583.83,1184.00 L1590.66,1184.35 L1597.49,1184.74 L1604.33,1185.15 L1611.16,1185.60 L1618.00,1186.08 L1624.83,1186.61 L1631.66,1187.17 L1638.50,1187.78 L1645.33,1188.44 L1652.16,1189.15 L1659.00,1189.92 L1665.83,1190.75 L1672.67,1191.65 L1679.50,1192.62 L1686.33,1193.67 L1693.17,1194.81 L1700.00,1196.03 L1702.00,1196.41 L1704.19,1196.83 L1706.39,1197.26 L1708.58,1197.71 L1710.77,1198.16 L1712.97,1198.63 L1715.16,1199.11 L1717.36,1199.60 L1719.55,1200.11 L1721.74,1200.62 L1723.94,1201.15 L1726.13,1201.69 L1728.32,1202.25 L1730.52,1202.82 L1732.71,1203.40 L1734.91,1204.00 L1737.10,1204.62 L1739.29,1205.24 L1741.49,1205.89 L1743.68,1206.55 L1745.87,1207.23 L1748.07,1207.92 L1750.26,1208.64 L1752.45,1209.37 L1754.65,1210.12 L1756.84,1210.88 L1759.04,1211.67 L1761.23,1212.48 L1763.42,1213.30 L1765.62,1214.15 L1767.81,1215.02 L1770.00,1215.91 L1772.20,1216.83 L1774.39,1217.76 L1776.58,1218.72 L1778.78,1219.71 L1780.97,1220.72 L1783.17,1221.75 L1785.36,1222.81 L1787.55,1223.90 L1789.75,1225.01 L1791.94,1226.15 L1794.13,1227.32 L1796.33,1228.52 L1798.52,1229.75 L1800.72,1231.01 L1802.91,1232.31 L1805.10,1233.63 L1807.30,1234.99 L1809.49,1236.39 L1811.68,1237.81 L1813.88,1239.28 L1816.07,1240.78 L1818.26,1242.32 L1820.46,1243.89 L1822.65,1245.51 L1824.85,1247.17 L1827.04,1248.87 L1829.23,1250.61 L1831.43,1252.39 L1833.62,1254.22 L1835.81,1256.10 L1838.01,1258.02 L1840.20,1260.00 L1842.39,1262.02 L1844.59,1264.09 L1846.78,1266.21 L1848.98,1268.39 L1851.17,1270.62 L1853.36,1272.91 L1855.56,1275.26 L1857.75,1277.66 L1859.94,1280.13 L1862.14,1282.66 L1864.33,1285.25 L1866.53,1287.90 L1868.72,1290.63 L1870.91,1293.42 L1873.11,1296.28 L1875.30,1299.21 L1888.00,765.50" fill="none" stroke="#0072BD" stroke-width="10.0" stroke-linecap="round" stroke-linejoin="round"/>
</g>
<path d="M340.10,1316.17 L344.82,1316.09 L349.54,1316.01 L354.26,1315.92 L358.98,1315.83 L363.70,1315.73 L368.42,1315.63 L373.14,1315.52 L377.86,1315.41 L382.58,1315.29 L387.30,1315.16 L392.02,1315.03 L396.74,1314.89 L401.46,1314.74 L406.18,1314.58 L410.90,1314.42 L415.62,1314.24 L420.34,1314.06 L425.06,1313.87 L429.78,1313.66 L434.50,1313.44 L439.22,1313.22 L443.94,1312.98 L448.66,1312.72 L453.38,1312.46 L458.10,1312.18 L462.82,1311.88 L467.54,1311.57 L472.26,1311.24 L476.98,1310.89 L481.70,1310.52 L486.42,1310.13 L491.14,1309.73 L495.86,1309.30 L500.58,1308.84 L505.30,1308.37 L510.02,1307.86 L514.74,1307.34 L519.47,1306.78 L524.19,1306.19 L528.91,1305.57 L533.63,1304.92 L538.35,1304.24 L543.07,1303.51 L547.79,1302.76 L552.51,1301.96 L557.23,1301.12 L561.95,1300.24 L566.67,1299.31 L571.39,1298.34 L576.11,1297.32 L580.83,1296.25 L585.55,1295.13 L590.27,1293.95 L594.99,1292.72 L599.71,1291.43 L604.43,1290.08 L609.15,1288.68 L613.87,1287.21 L618.59,1285.68 L623.31,1284.09 L628.03,1282.44 L632.75,1280.73 L637.47,1278.95 L642.19,1277.11 L646.91,1275.21 L651.63,1273.26 L656.35,1271.25 L661.07,1269.20 L665.79,1267.09 L670.51,1264.95 L675.23,1262.76 L679.95,1260.54 L684.67,1258.30 L689.39,1256.02 L694.11,1253.74 L698.83,1251.43 L703.55,1249.13 L708.27,1246.82 L712.99,1244.53 L717.71,1242.24 L722.43,1239.98 L727.15,1237.74 L731.87,1235.53 L736.59,1233.37 L741.31,1231.24 L746.03,1229.16 L750.75,1227.13 L755.47,1225.18 L760.19,1223.29 L764.91,1221.47 L769.63,1219.72 L774.35,1218.04 L779.07,1216.41 L783.79,1214.85 L788.51,1213.34 L793.23,1211.87 L797.95,1210.45 L802.67,1209.08 L807.39,1207.74 L812.11,1206.44 L816.83,1205.19 L821.55,1204.00 L826.27,1202.87 L830.99,1201.79 L835.71,1200.76 L840.43,1199.77 L845.15,1198.84 L849.87,1197.95 L854.59,1197.08 L859.31,1196.23 L864.03,1195.41 L868.76,1194.62 L873.48,1193.85 L878.20,1193.11 L882.92,1192.41 L887.64,1191.75 L892.36,1191.12 L897.08,1190.54 L901.80,1190.01 L906.52,1189.50 L911.24,1189.03 L915.96,1188.57 L920.68,1188.14 L925.40,1187.74 L930.12,1187.35 L934.84,1186.99 L939.56,1186.64 L944.28,1186.31 L949.00,1186.00 L953.72,1185.71 L958.44,1185.43 L963.16,1185.16 L967.88,1184.91 L972.60,1184.67 L977.32,1184.44 L982.04,1184.22 L986.76,1184.01 L991.48,1183.81 L996.20,1183.62 L1000.92,1183.44 L1005.64,1183.26 L1010.36,1183.09 L1015.08,1182.93 L1019.80,1182.77 L1024.52,1182.62 L1029.24,1182.47 L1033.96,1182.33 L1038.68,1182.20 L1043.40,1182.07" fill="none" stroke="#D95319" stroke-width="10.0" stroke-linejoin="round"/>
<path d="M340.10,1316.17 L344.82,1316.09 L349.54,1316.01 L354.26,1315.92 L358.98,1315.83 L363.70,1315.73 L368.42,1315.63 L373.14,1315.52 L377.86,1315.41 L382.58,1315.29 L387.30,1315.16 L392.02,1315.03 L396.74,1314.89 L401.46,1314.74 L406.18,1314.58 L410.90,1314.42 L415.62,1314.24 L420.34,1314.06 L425.06,1313.87 L429.78,1313.66 L434.50,1313.44 L439.22,1313.22 L443.94,1312.98 L448.66,1312.72 L453.38,1312.46 L458.10,1312.18 L462.82,1311.88 L467.54,1311.57 L472.26,1311.24 L476.98,1310.89 L481.70,1310.52 L486.42,1310.13 L491.14,1309.73 L495.86,1309.30 L500.58,1308.84 L505.30,1308.37 L510.02,1307.86 L514.74,1307.34 L519.47,1306.78 L524.19,1306.19 L528.91,1305.57 L533.63,1304.92 L538.35,1304.24 L543.07,1303.51 L547.79,1302.76 L552.51,1301.96 L557.23,1301.12 L561.95,1300.24 L566.67,1299.31 L571.39,1298.34 L576.11,1297.32 L580.83,1296.25 L585.55,1295.13 L590.27,1293.95 L594.99,1292.72 L599.71,1291.43 L604.43,1290.08 L609.15,1288.68 L613.87,1287.21 L618.59,1285.68 L623.31,1284.09 L628.03,1282.44 L632.75,1280.73 L637.47,1278.95 L642.19,1277.11 L646.91,1275.21 L651.63,1273.26 L656.35,1271.25 L661.07,1269.20 L665.79,1267.09 L670.51,1264.95 L675.23,1262.76 L679.95,1260.54 L684.67,1258.30 L689.39,1256.02 L694.11,1253.74 L698.83,1251.43 L703.55,1249.13 L708.27,1246.82 L712.99,1244.53 L717.71,1242.24 L722.43,1239.98 L727.15,1237.74 L731.87,1235.53 L736.59,1233.37 L741.31,1231.24 L746.03,1229.16 L750.75,1227.13 L755.47,1225.18 L760.19,1223.29 L764.91,1221.47 L769.63,1219.72 L774.35,1218.04 L779.07,1216.41 L783.79,1214.85 L788.51,1213.34 L793.23,1211.87 L797.95,1210.45 L802.67,1209.08 L807.39,1207.74 L812.11,1206.44 L816.83,1205.19 L821.55,1204.00 L826.27,1202.87 L830.99,1201.79 L835.71,1200.76 L840.43,1199.77 L845.15,1198.84 L849.87,1197.95 L854.59,1197.08 L859.31,1196.23 L864.03,1195.41 L868.76,1194.62 L873.48,1193.85 L878.20,1193.11 L882.92,1192.41 L887.64,1191.75 L892.36,1191.12 L897.08,1190.54 L901.80,1190.01 L906.52,1189.50 L911.24,1189.03 L915.96,1188.57 L920.68,1188.14 L925.40,1187.74 L930.12,1187.35 L934.84,1186.99 L939.56,1186.64 L944.28,1186.31 L949.00,1186.00 L953.72,1185.71 L958.44,1185.43 L963.16,1185.16 L967.88,1184.91 L972.60,1184.67 L977.32,1184.44 L982.04,1184.22 L986.76,1184.01 L991.48,1183.81 L996.20,1183.62 L1000.92,1183.44 L1005.64,1183.26 L1010.36,1183.09 L1015.08,1182.93 L1019.80,1182.77 L1024.52,1182.62 L1029.24,1182.47 L1033.96,1182.33 L1038.68,1182.20 L1043.40,1182.07" fill="none" stroke="#7a5a4a" stroke-width="10.0" stroke-opacity="0.45" stroke-dasharray="0.6 13.2"/>
<path d="M1074.10,1181.35 L1077.53,1181.28 L1080.97,1181.22 L1084.40,1181.16 L1087.83,1181.09 L1091.27,1181.04 L1094.70,1180.98 L1098.13,1180.93 L1101.57,1180.88 L1105.00,1180.83" fill="none" stroke="#D95319" stroke-width="10.0" stroke-linejoin="round"/>
<path d="M1114.30,1180.70 L1120.27,1180.63 L1126.25,1180.56 L1132.22,1180.49 L1138.19,1180.42 L1144.16,1180.36 L1150.14,1180.30 L1156.11,1180.25 L1162.08,1180.20 L1168.05,1180.15 L1174.03,1180.11 L1180.00,1180.07 L1182.00,1180.67 L1186.87,1180.69 L1191.74,1180.73 L1196.62,1180.79 L1201.49,1180.86 L1206.36,1180.95 L1211.23,1181.05 L1216.10,1181.17 L1220.97,1181.30 L1225.85,1181.43 L1230.72,1181.58 L1235.59,1181.73 L1240.46,1181.88 L1245.33,1182.07 L1250.21,1182.32 L1255.08,1182.61 L1259.95,1182.95 L1264.82,1183.32 L1269.69,1183.73 L1274.56,1184.17 L1279.44,1184.63 L1284.31,1185.10 L1289.18,1185.59 L1294.05,1186.09 L1298.92,1186.59 L1303.79,1187.10 L1308.67,1187.65 L1313.54,1188.23 L1318.41,1188.84 L1323.28,1189.48 L1328.15,1190.16 L1333.03,1190.86 L1337.90,1191.58 L1342.77,1192.33 L1347.64,1193.10 L1352.51,1193.89 L1357.38,1194.70 L1362.26,1195.52 L1367.13,1196.38 L1372.00,1197.27" fill="none" stroke="#D95319" stroke-width="10.0" stroke-linejoin="round"/>
<path d="M1114.30,1180.70 L1120.27,1180.63 L1126.25,1180.56 L1132.22,1180.49 L1138.19,1180.42 L1144.16,1180.36 L1150.14,1180.30 L1156.11,1180.25 L1162.08,1180.20 L1168.05,1180.15 L1174.03,1180.11 L1180.00,1180.07 L1182.00,1180.67 L1186.87,1180.69 L1191.74,1180.73 L1196.62,1180.79 L1201.49,1180.86 L1206.36,1180.95 L1211.23,1181.05 L1216.10,1181.17 L1220.97,1181.30 L1225.85,1181.43 L1230.72,1181.58 L1235.59,1181.73 L1240.46,1181.88 L1245.33,1182.07 L1250.21,1182.32 L1255.08,1182.61 L1259.95,1182.95 L1264.82,1183.32 L1269.69,1183.73 L1274.56,1184.17 L1279.44,1184.63 L1284.31,1185.10 L1289.18,1185.59 L1294.05,1186.09 L1298.92,1186.59 L1303.79,1187.10 L1308.67,1187.65 L1313.54,1188.23 L1318.41,1188.84 L1323.28,1189.48 L1328.15,1190.16 L1333.03,1190.86 L1337.90,1191.58 L1342.77,1192.33 L1347.64,1193.10 L1352.51,1193.89 L1357.38,1194.70 L1362.26,1195.52 L1367.13,1196.38 L1372.00,1197.27" fill="none" stroke="#7a5a4a" stroke-width="10.0" stroke-opacity="0.45" stroke-dasharray="0.6 13.2"/>
<path d="M1370.00,1196.90 L1375.71,1197.98 L1381.43,1199.09 L1387.14,1200.25 L1392.86,1201.47 L1398.57,1202.73 L1404.29,1204.04 L1410.00,1205.40" fill="none" stroke="#D95319" stroke-width="11.0" stroke-linejoin="round"/>
<path d="M1370.00,1196.90 L1375.71,1197.98 L1381.43,1199.09 L1387.14,1200.25 L1392.86,1201.47 L1398.57,1202.73 L1404.29,1204.04 L1410.00,1205.40" fill="none" stroke="#fff" stroke-width="11.6" stroke-linejoin="round" stroke-opacity="0.15" stroke-dasharray="0.45 1.55"/>
<path d="M1408.00,1204.92 L1412.17,1205.93 L1416.35,1206.98 L1420.52,1208.07 L1424.70,1209.26 L1428.87,1210.53 L1433.04,1211.87 L1437.22,1213.24 L1441.39,1214.64 L1445.57,1216.04 L1449.74,1217.42 L1453.91,1218.76 L1458.09,1220.04 L1462.26,1221.30 L1466.43,1222.55 L1470.61,1223.80 L1474.78,1225.07 L1478.96,1226.37 L1483.13,1227.76 L1487.30,1229.25 L1491.48,1230.59 L1495.65,1231.72 L1499.83,1232.28 L1504.00,1231.00 L1506.50,1229.30 L1508.60,1226.00" fill="none" stroke="#D95319" stroke-width="12.0" stroke-linejoin="round"/>
<path d="M1408.00,1204.92 L1412.17,1205.93 L1416.35,1206.98 L1420.52,1208.07 L1424.70,1209.26 L1428.87,1210.53 L1433.04,1211.87 L1437.22,1213.24 L1441.39,1214.64 L1445.57,1216.04 L1449.74,1217.42 L1453.91,1218.76 L1458.09,1220.04 L1462.26,1221.30 L1466.43,1222.55 L1470.61,1223.80 L1474.78,1225.07 L1478.96,1226.37 L1483.13,1227.76 L1487.30,1229.25 L1491.48,1230.59 L1495.65,1231.72 L1499.83,1232.28 L1504.00,1231.00 L1506.50,1229.30 L1508.60,1226.00" fill="none" stroke="#fff" stroke-width="12.6" stroke-linejoin="round" stroke-opacity="0.28" stroke-dasharray="0.45 1.55"/>
<path d="M1507.60,1228.00 L1510.40,1221.50 L1512.30,1214.00 L1513.70,1206.00 L1515.00,1196.00 L1515.90,1182.00" fill="none" stroke="#D95319" stroke-width="10.2" stroke-linejoin="round"/>
<path d="M1516.10,1182.00 L1516.90,1208.40 L1517.90,1239.80" fill="none" stroke="#D95319" stroke-width="10.2" stroke-linejoin="round"/>
<path d="M1518.40,1245.60 L1519.30,1258.00 L1520.20,1262.00" fill="none" stroke="#D95319" stroke-width="10.2" stroke-linejoin="round"/>
<path d="M1518.50,1261.50 L1521.97,1264.10 L1525.43,1265.59 L1528.90,1266.58 L1532.37,1267.34 L1535.83,1268.01 L1539.30,1268.69 L1542.77,1269.53 L1546.23,1270.65 L1549.70,1271.90 L1553.17,1273.11 L1556.63,1274.06 L1560.10,1274.57 L1563.57,1274.44 L1567.03,1273.52 L1570.50,1269.50" fill="none" stroke="#D95319" stroke-width="12.0" stroke-linejoin="round"/>
<path d="M1518.50,1261.50 L1521.97,1264.10 L1525.43,1265.59 L1528.90,1266.58 L1532.37,1267.34 L1535.83,1268.01 L1539.30,1268.69 L1542.77,1269.53 L1546.23,1270.65 L1549.70,1271.90 L1553.17,1273.11 L1556.63,1274.06 L1560.10,1274.57 L1563.57,1274.44 L1567.03,1273.52 L1570.50,1269.50" fill="none" stroke="#fff" stroke-width="12.6" stroke-linejoin="round" stroke-opacity="0.28" stroke-dasharray="0.45 1.55"/>
<path d="M1569.50,1271.00 L1572.80,1256.70 L1575.20,1237.40 L1576.80,1208.40 L1577.60,1186.00" fill="none" stroke="#D95319" stroke-width="10.4" stroke-linejoin="round"/>
<path d="M1578.00,786.70 L1578.00,817.60" fill="none" stroke="#D95319" stroke-width="10.0" stroke-linejoin="round"/>
<path d="M1578.00,848.50 L1578.00,879.40" fill="none" stroke="#D95319" stroke-width="10.0" stroke-linejoin="round"/>
<path d="M1578.00,910.30 L1578.00,941.20" fill="none" stroke="#D95319" stroke-width="10.0" stroke-linejoin="round"/>
<path d="M1578.00,972.10 L1578.00,1003.00" fill="none" stroke="#D95319" stroke-width="10.0" stroke-linejoin="round"/>
<path d="M1578.00,1033.90 L1578.00,1064.80" fill="none" stroke="#D95319" stroke-width="10.0" stroke-linejoin="round"/>
<path d="M1578.00,1095.70 L1578.00,1126.60" fill="none" stroke="#D95319" stroke-width="10.0" stroke-linejoin="round"/>
<path d="M1578.00,1157.50 L1578.00,1188.40" fill="none" stroke="#D95319" stroke-width="10.0" stroke-linejoin="round"/>
<path d="M1580.80,767.30 L1580.80,798.20" fill="none" stroke="#D95319" stroke-width="10.0" stroke-linejoin="round"/>
<path d="M1580.80,829.10 L1580.80,860.00" fill="none" stroke="#D95319" stroke-width="10.0" stroke-linejoin="round"/>
<path d="M1580.80,890.90 L1580.80,921.80" fill="none" stroke="#D95319" stroke-width="10.0" stroke-linejoin="round"/>
<path d="M1580.80,952.70 L1580.80,983.60" fill="none" stroke="#D95319" stroke-width="10.0" stroke-linejoin="round"/>
<path d="M1580.80,1014.50 L1580.80,1045.40" fill="none" stroke="#D95319" stroke-width="10.0" stroke-linejoin="round"/>
<path d="M1580.80,1076.30 L1580.80,1107.20" fill="none" stroke="#D95319" stroke-width="10.0" stroke-linejoin="round"/>
<path d="M1580.80,1138.10 L1580.80,1169.00" fill="none" stroke="#D95319" stroke-width="10.0" stroke-linejoin="round"/>
<path d="M1580.80,1199.90 L1580.80,1230.80" fill="none" stroke="#D95319" stroke-width="10.0" stroke-linejoin="round"/>
<path d="M1580.80,1261.70 L1580.80,1292.60" fill="none" stroke="#D95319" stroke-width="10.0" stroke-linejoin="round"/>
<path d="M1580.30,1310.60 L1583.50,1306.60 L1589.30,1304.30 L1596.00,1305.50 L1615.40,1310.90 L1624.00,1314.30 L1630.00,1315.60" fill="none" stroke="#D95319" stroke-width="12.0" stroke-linejoin="round"/>
<path d="M1580.30,1310.60 L1583.50,1306.60 L1589.30,1304.30 L1596.00,1305.50 L1615.40,1310.90 L1624.00,1314.30 L1630.00,1315.60" fill="none" stroke="#fff" stroke-width="12.6" stroke-linejoin="round" stroke-opacity="0.28" stroke-dasharray="0.45 1.55"/>
<path d="M1628.50,1316.00 L1633.50,1313.50 L1636.20,1303.00 L1637.60,1285.00 L1638.00,1251.50" fill="none" stroke="#D95319" stroke-width="10.4" stroke-linejoin="round"/>
<path d="M1638.40,1208.00 L1638.60,1238.30" fill="none" stroke="#D95319" stroke-width="10.0" stroke-linejoin="round"/>
<path d="M1638.40,1146.00 L1638.60,1176.80" fill="none" stroke="#D95319" stroke-width="10.0" stroke-linejoin="round"/>
<path d="M1638.40,1084.30 L1638.60,1114.90" fill="none" stroke="#D95319" stroke-width="10.0" stroke-linejoin="round"/>
<path d="M1638.40,995.50 L1638.60,1052.60" fill="none" stroke="#D95319" stroke-width="10.0" stroke-linejoin="round"/>
<path d="M1638.40,933.70 L1638.60,964.50" fill="none" stroke="#D95319" stroke-width="10.0" stroke-linejoin="round"/>
<path d="M1638.40,871.90 L1638.60,902.80" fill="none" stroke="#D95319" stroke-width="10.0" stroke-linejoin="round"/>
<path d="M1638.90,840.90 L1638.90,840.24 L1638.90,839.58 L1638.91,838.92 L1638.91,838.26 L1638.91,837.60 L1638.92,836.94 L1638.93,836.28 L1638.93,835.62 L1638.94,834.97 L1638.95,834.31 L1638.96,833.65 L1638.98,832.99 L1638.99,832.33 L1639.00,831.67 L1639.02,831.02 L1639.03,830.36 L1639.05,829.70 L1639.07,829.04 L1639.08,828.39 L1639.10,827.73 L1639.12,827.07 L1639.14,826.42 L1639.16,825.76 L1639.19,825.10 L1639.21,824.45 L1639.23,823.79 L1639.25,823.14 L1639.28,822.48 L1639.30,821.82 L1639.33,821.17 L1639.36,820.51 L1639.38,819.86 L1639.41,819.20 L1639.44,818.55 L1639.47,817.89 L1639.50,817.24 L1639.53,816.58 L1639.56,815.93 L1639.59,815.27 L1639.62,814.62 L1639.66,813.96 L1639.70,813.31 L1639.74,812.65 L1639.79,811.99 L1639.85,811.33 L1639.91,810.67 L1639.97,810.01 L1640.04,809.35 L1640.11,808.69 L1640.19,808.03 L1640.27,807.37 L1640.36,806.72 L1640.45,806.06 L1640.54,805.41 L1640.64,804.76 L1640.74,804.11 L1640.85,803.46 L1640.96,802.81 L1641.08,802.17 L1641.20,801.53 L1641.32,800.90 L1641.45,800.27 L1641.58,799.63 L1641.73,798.98 L1641.90,798.32 L1642.09,797.65 L1642.30,796.97 L1642.52,796.31 L1642.77,795.65 L1643.03,795.02 L1643.31,794.41 L1643.61,793.84 L1643.92,793.30 L1644.25,792.82 L1644.61,792.38 L1645.04,791.93 L1645.55,791.47 L1646.12,791.03 L1646.74,790.64 L1647.37,790.32 L1648.00,790.10 L1648.61,790.00 L1649.65,790.11 L1650.57,790.37 L1651.49,790.75 L1652.42,791.20 L1653.35,791.68 L1654.27,792.15 L1655.17,792.58 L1656.07,792.98 L1656.96,793.39 L1657.85,793.81 L1658.73,794.24 L1659.62,794.67 L1660.50,795.10 L1661.38,795.54 L1662.26,795.99 L1663.14,796.44 L1664.01,796.90 L1664.89,797.36 L1665.76,797.82 L1666.63,798.29 L1667.50,798.77 L1668.36,799.24 L1669.23,799.73 L1670.09,800.21 L1670.95,800.70 L1671.81,801.19 L1672.67,801.68 L1673.52,802.18 L1674.37,802.68 L1675.23,803.18 L1676.08,803.69 L1676.93,804.19 L1677.78,804.70 L1678.62,805.21 L1679.47,805.72 L1680.31,806.23 L1681.15,806.74 L1681.99,807.25 L1682.83,807.77 L1683.67,808.28 L1684.51,808.80 L1685.35,809.31 L1686.18,809.83 L1687.02,810.36 L1687.86,810.88 L1688.69,811.41 L1689.53,811.94 L1690.36,812.48 L1691.19,813.01 L1692.02,813.55 L1692.85,814.10 L1693.67,814.65 L1694.50,815.20 L1695.32,815.75 L1696.13,816.31 L1696.95,816.87 L1697.76,817.43 L1698.57,818.00 L1699.37,818.57 L1700.17,819.15 L1700.97,819.73 L1701.76,820.31 L1702.55,820.90 L1703.33,821.49 L1704.11,822.09 L1704.88,822.69 L1705.65,823.30 L1706.41,823.91 L1707.17,824.52 L1707.93,825.14 L1708.69,825.76 L1709.44,826.39 L1710.20,827.02 L1710.95,827.66 L1711.70,828.30 L1712.44,828.94 L1713.18,829.59 L1713.93,830.24 L1714.66,830.90 L1715.40,831.56 L1716.14,832.22 L1716.87,832.89 L1717.60,833.56 L1718.32,834.23 L1719.05,834.91 L1719.77,835.58 L1720.49,836.27 L1721.21,836.95 L1721.92,837.64 L1722.63,838.33 L1723.34,839.02 L1724.05,839.71 L1724.76,840.41 L1725.46,841.11 L1726.16,841.81 L1726.86,842.51 L1727.55,843.22 L1728.25,843.92 L1728.94,844.63 L1729.62,845.34 L1730.31,846.06 L1730.99,846.77 L1731.67,847.48 L1732.35,848.20 L1733.02,848.92 L1733.69,849.64 L1734.36,850.35 L1735.03,851.07 L1735.70,851.80 L1736.36,852.52 L1737.02,853.25 L1737.67,853.98 L1738.33,854.71 L1738.98,855.45 L1739.63,856.19 L1740.27,856.93 L1740.92,857.68 L1741.56,858.43 L1742.19,859.19 L1742.83,859.94 L1743.46,860.70 L1744.09,861.46 L1744.72,862.23 L1745.34,863.00 L1745.96,863.77 L1746.58,864.54 L1747.20,865.31 L1747.81,866.09 L1748.42,866.87 L1749.03,867.65 L1749.64,868.43 L1750.24,869.21 L1750.84,869.99 L1751.44,870.78 L1752.03,871.57 L1752.62,872.36 L1753.21,873.15 L1753.80,873.94 L1754.38,874.73 L1754.96,875.52 L1755.54,876.31 L1756.12,877.11 L1756.70,877.91 L1757.27,878.71 L1757.85,879.51 L1758.43,880.31 L1759.00,881.11 L1759.57,881.92 L1760.14,882.72 L1760.71,883.53 L1761.28,884.34 L1761.84,885.15 L1762.41,885.97 L1762.97,886.78 L1763.53,887.60 L1764.08,888.42 L1764.64,889.24 L1765.19,890.06 L1765.74,890.88 L1766.28,891.71 L1766.83,892.54 L1767.37,893.37 L1767.90,894.20 L1768.44,895.03 L1768.97,895.86 L1769.49,896.70 L1770.02,897.53 L1770.54,898.37 L1771.05,899.21 L1771.56,900.06 L1772.07,900.90 L1772.57,901.75 L1773.07,902.60 L1773.56,903.45 L1774.05,904.30 L1774.54,905.15 L1775.01,906.01 L1775.49,906.86 L1775.96,907.72 L1776.43,908.58 L1776.89,909.45 L1777.35,910.32 L1777.80,911.19 L1778.26,912.06 L1778.70,912.94 L1779.15,913.82 L1779.59,914.70 L1780.03,915.59 L1780.46,916.47 L1780.90,917.36 L1781.33,918.25 L1781.75,919.14 L1782.18,920.04 L1782.60,920.93 L1783.01,921.83 L1783.43,922.73 L1783.84,923.63 L1784.25,924.53 L1784.66,925.43 L1785.06,926.33 L1785.46,927.23 L1785.86,928.14 L1786.26,929.04 L1786.65,929.95 L1787.04,930.85 L1787.43,931.76 L1787.82,932.67 L1788.21,933.57 L1788.59,934.48 L1788.97,935.38 L1789.35,936.29 L1789.72,937.20 L1790.10,938.11 L1790.47,939.03 L1790.83,939.94 L1791.20,940.86 L1791.56,941.77 L1791.92,942.69 L1792.28,943.61 L1792.63,944.53 L1792.99,945.45 L1793.34,946.37 L1793.69,947.29 L1794.03,948.22 L1794.38,949.14 L1794.72,950.07 L1795.07,950.99 L1795.41,951.92 L1795.75,952.85 L1796.09,953.77 L1796.42,954.70 L1796.76,955.63 L1797.10,956.56 L1797.43,957.48 L1797.77,958.41 L1798.10,959.34 L1798.43,960.27 L1798.76,961.20 L1799.10,962.13 L1799.43,963.06 L1799.76,963.98 L1800.09,964.91 L1800.42,965.84 L1800.75,966.77 L1800.96,967.39" fill="none" stroke="#D95319" stroke-width="10.4" stroke-linejoin="round"/>
<path d="M1638.90,840.90 L1638.90,840.24 L1638.90,839.58 L1638.91,838.92 L1638.91,838.26 L1638.91,837.60 L1638.92,836.94 L1638.93,836.28 L1638.93,835.62 L1638.94,834.97 L1638.95,834.31 L1638.96,833.65 L1638.98,832.99 L1638.99,832.33 L1639.00,831.67 L1639.02,831.02 L1639.03,830.36 L1639.05,829.70 L1639.07,829.04 L1639.08,828.39 L1639.10,827.73 L1639.12,827.07 L1639.14,826.42 L1639.16,825.76 L1639.19,825.10 L1639.21,824.45 L1639.23,823.79 L1639.25,823.14 L1639.28,822.48 L1639.30,821.82 L1639.33,821.17 L1639.36,820.51 L1639.38,819.86 L1639.41,819.20 L1639.44,818.55 L1639.47,817.89 L1639.50,817.24 L1639.53,816.58 L1639.56,815.93 L1639.59,815.27 L1639.62,814.62 L1639.66,813.96 L1639.70,813.31 L1639.74,812.65 L1639.79,811.99 L1639.85,811.33 L1639.91,810.67 L1639.97,810.01 L1640.04,809.35 L1640.11,808.69 L1640.19,808.03 L1640.27,807.37 L1640.36,806.72 L1640.45,806.06 L1640.54,805.41 L1640.64,804.76 L1640.74,804.11 L1640.85,803.46 L1640.96,802.81 L1641.08,802.17 L1641.20,801.53 L1641.32,800.90 L1641.45,800.27 L1641.58,799.63 L1641.73,798.98 L1641.90,798.32 L1642.09,797.65 L1642.30,796.97 L1642.52,796.31 L1642.77,795.65 L1643.03,795.02 L1643.31,794.41 L1643.61,793.84 L1643.92,793.30 L1644.25,792.82 L1644.61,792.38 L1645.04,791.93 L1645.55,791.47 L1646.12,791.03 L1646.74,790.64 L1647.37,790.32 L1648.00,790.10 L1648.61,790.00 L1649.65,790.11 L1650.57,790.37 L1651.49,790.75 L1652.42,791.20 L1653.35,791.68 L1654.27,792.15 L1655.17,792.58 L1656.07,792.98 L1656.96,793.39 L1657.85,793.81 L1658.73,794.24 L1659.62,794.67 L1660.50,795.10 L1661.38,795.54 L1662.26,795.99 L1663.14,796.44 L1664.01,796.90 L1664.89,797.36 L1665.76,797.82 L1666.63,798.29 L1667.50,798.77 L1668.36,799.24 L1669.23,799.73 L1670.09,800.21 L1670.95,800.70 L1671.81,801.19 L1672.67,801.68 L1673.52,802.18 L1674.37,802.68 L1675.23,803.18 L1676.08,803.69 L1676.93,804.19 L1677.78,804.70 L1678.62,805.21 L1679.47,805.72 L1680.31,806.23 L1681.15,806.74 L1681.99,807.25 L1682.83,807.77 L1683.67,808.28 L1684.51,808.80 L1685.35,809.31 L1686.18,809.83 L1687.02,810.36 L1687.86,810.88 L1688.69,811.41 L1689.53,811.94 L1690.36,812.48 L1691.19,813.01 L1692.02,813.55 L1692.85,814.10 L1693.67,814.65 L1694.50,815.20 L1695.32,815.75 L1696.13,816.31 L1696.95,816.87 L1697.76,817.43 L1698.57,818.00 L1699.37,818.57 L1700.17,819.15 L1700.97,819.73 L1701.76,820.31 L1702.55,820.90 L1703.33,821.49 L1704.11,822.09 L1704.88,822.69 L1705.65,823.30 L1706.41,823.91 L1707.17,824.52 L1707.93,825.14 L1708.69,825.76 L1709.44,826.39 L1710.20,827.02 L1710.95,827.66 L1711.70,828.30 L1712.44,828.94 L1713.18,829.59 L1713.93,830.24 L1714.66,830.90 L1715.40,831.56 L1716.14,832.22 L1716.87,832.89 L1717.60,833.56 L1718.32,834.23 L1719.05,834.91 L1719.77,835.58 L1720.49,836.27 L1721.21,836.95 L1721.92,837.64 L1722.63,838.33 L1723.34,839.02 L1724.05,839.71 L1724.76,840.41 L1725.46,841.11 L1726.16,841.81 L1726.86,842.51 L1727.55,843.22 L1728.25,843.92 L1728.94,844.63 L1729.62,845.34 L1730.31,846.06 L1730.99,846.77 L1731.67,847.48 L1732.35,848.20 L1733.02,848.92 L1733.69,849.64 L1734.36,850.35 L1735.03,851.07 L1735.70,851.80 L1736.36,852.52 L1737.02,853.25 L1737.67,853.98 L1738.33,854.71 L1738.98,855.45 L1739.63,856.19 L1740.27,856.93 L1740.92,857.68 L1741.56,858.43 L1742.19,859.19 L1742.83,859.94 L1743.46,860.70 L1744.09,861.46 L1744.72,862.23 L1745.34,863.00 L1745.96,863.77 L1746.58,864.54 L1747.20,865.31 L1747.81,866.09 L1748.42,866.87 L1749.03,867.65 L1749.64,868.43 L1750.24,869.21 L1750.84,869.99 L1751.44,870.78 L1752.03,871.57 L1752.62,872.36 L1753.21,873.15 L1753.80,873.94 L1754.38,874.73 L1754.96,875.52 L1755.54,876.31 L1756.12,877.11 L1756.70,877.91 L1757.27,878.71 L1757.85,879.51 L1758.43,880.31 L1759.00,881.11 L1759.57,881.92 L1760.14,882.72 L1760.71,883.53 L1761.28,884.34 L1761.84,885.15 L1762.41,885.97 L1762.97,886.78 L1763.53,887.60 L1764.08,888.42 L1764.64,889.24 L1765.19,890.06 L1765.74,890.88 L1766.28,891.71 L1766.83,892.54 L1767.37,893.37 L1767.90,894.20 L1768.44,895.03 L1768.97,895.86 L1769.49,896.70 L1770.02,897.53 L1770.54,898.37 L1771.05,899.21 L1771.56,900.06 L1772.07,900.90 L1772.57,901.75 L1773.07,902.60 L1773.56,903.45 L1774.05,904.30 L1774.54,905.15 L1775.01,906.01 L1775.49,906.86 L1775.96,907.72 L1776.43,908.58 L1776.89,909.45 L1777.35,910.32 L1777.80,911.19 L1778.26,912.06 L1778.70,912.94 L1779.15,913.82 L1779.59,914.70 L1780.03,915.59 L1780.46,916.47 L1780.90,917.36 L1781.33,918.25 L1781.75,919.14 L1782.18,920.04 L1782.60,920.93 L1783.01,921.83 L1783.43,922.73 L1783.84,923.63 L1784.25,924.53 L1784.66,925.43 L1785.06,926.33 L1785.46,927.23 L1785.86,928.14 L1786.26,929.04 L1786.65,929.95 L1787.04,930.85 L1787.43,931.76 L1787.82,932.67 L1788.21,933.57 L1788.59,934.48 L1788.97,935.38 L1789.35,936.29 L1789.72,937.20 L1790.10,938.11 L1790.47,939.03 L1790.83,939.94 L1791.20,940.86 L1791.56,941.77 L1791.92,942.69 L1792.28,943.61 L1792.63,944.53 L1792.99,945.45 L1793.34,946.37 L1793.69,947.29 L1794.03,948.22 L1794.38,949.14 L1794.72,950.07 L1795.07,950.99 L1795.41,951.92 L1795.75,952.85 L1796.09,953.77 L1796.42,954.70 L1796.76,955.63 L1797.10,956.56 L1797.43,957.48 L1797.77,958.41 L1798.10,959.34 L1798.43,960.27 L1798.76,961.20 L1799.10,962.13 L1799.43,963.06 L1799.76,963.98 L1800.09,964.91 L1800.42,965.84 L1800.75,966.77 L1800.96,967.39" fill="none" stroke="#fff" stroke-width="11.0" stroke-linejoin="round" stroke-opacity="0.10" stroke-dasharray="0.5 5"/>
<path d="M1802.04,970.49 L1802.36,971.43 L1802.68,972.36 L1803.00,973.29 L1803.32,974.23 L1803.64,975.16 L1803.95,976.09 L1804.27,977.03 L1804.58,977.96 L1804.90,978.90 L1805.21,979.83 L1805.52,980.77 L1805.83,981.70 L1806.14,982.64 L1806.45,983.58 L1806.76,984.51 L1807.07,985.45 L1807.38,986.38 L1807.69,987.32 L1808.00,988.26 L1808.31,989.19 L1808.62,990.13 L1808.93,991.07 L1809.24,992.00 L1809.55,992.94 L1809.86,993.87 L1810.17,994.81 L1810.48,995.75 L1810.78,996.68 L1811.09,997.62 L1811.20,997.93" fill="none" stroke="#D95319" stroke-width="10.0" stroke-linejoin="round"/>
<path d="M1813.39,1004.65 L1813.70,1005.59 L1814.00,1006.52 L1814.30,1007.46 L1814.61,1008.40 L1814.91,1009.34 L1815.22,1010.27 L1815.52,1011.21 L1815.82,1012.15 L1816.13,1013.09 L1816.43,1014.03 L1816.73,1014.97 L1817.03,1015.90 L1817.33,1016.84 L1817.64,1017.78 L1817.94,1018.72 L1818.24,1019.66 L1818.54,1020.60 L1818.84,1021.54 L1819.14,1022.48 L1819.44,1023.41 L1819.74,1024.35 L1820.05,1025.29 L1820.35,1026.23 L1820.65,1027.17 L1820.95,1028.11 L1821.25,1029.05 L1821.55,1029.99 L1821.85,1030.93 L1822.15,1031.87 L1822.45,1032.81 L1822.75,1033.74 L1822.80,1033.90" fill="none" stroke="#D95319" stroke-width="10.0" stroke-linejoin="round"/>
<path d="M1825.93,1043.60 L1826.24,1044.53 L1826.54,1045.47 L1826.85,1046.41 L1827.15,1047.35 L1827.46,1048.29 L1827.76,1049.22 L1828.07,1050.16 L1828.37,1051.10 L1828.67,1052.04 L1828.98,1052.98 L1829.28,1053.92 L1829.58,1054.85 L1829.88,1055.79 L1830.18,1056.73 L1830.48,1057.67 L1830.78,1058.61 L1831.08,1059.55 L1831.38,1060.49 L1831.68,1061.43 L1831.97,1062.37 L1832.27,1063.31 L1832.56,1064.25 L1832.85,1065.20 L1833.14,1066.14 L1833.43,1067.08 L1833.72,1068.02 L1834.00,1068.97 L1834.29,1069.91 L1834.57,1070.85 L1834.85,1071.80 L1835.13,1072.74 L1835.41,1073.69 L1835.46,1073.85" fill="none" stroke="#D95319" stroke-width="10.0" stroke-linejoin="round"/>
<path d="M1838.74,1085.38 L1839.00,1086.33 L1839.26,1087.28 L1839.53,1088.23 L1839.79,1089.18 L1840.05,1090.13 L1840.31,1091.08 L1840.56,1092.04 L1840.82,1092.99 L1841.08,1093.94 L1841.34,1094.89 L1841.59,1095.85 L1841.85,1096.80 L1842.10,1097.75 L1842.35,1098.70 L1842.61,1099.66 L1842.86,1100.61 L1843.11,1101.57 L1843.36,1102.52 L1843.61,1103.47 L1843.86,1104.43 L1844.11,1105.38 L1844.36,1106.34 L1844.61,1107.29 L1844.85,1108.24 L1845.10,1109.20 L1845.35,1110.15 L1845.59,1111.11 L1845.84,1112.06 L1846.09,1113.02 L1846.33,1113.97 L1846.58,1114.93 L1846.78,1115.72" fill="none" stroke="#D95319" stroke-width="10.0" stroke-linejoin="round"/>
<path d="M1851.07,1132.77 L1851.30,1133.73 L1851.54,1134.69 L1851.77,1135.65 L1852.01,1136.61 L1852.24,1137.56 L1852.47,1138.52 L1852.71,1139.48 L1852.94,1140.44 L1853.17,1141.40 L1853.40,1142.36 L1853.63,1143.31 L1853.86,1144.27 L1854.09,1145.23 L1854.32,1146.19 L1854.55,1147.15 L1854.78,1148.11 L1855.00,1149.07 L1855.23,1150.03 L1855.46,1150.99 L1855.68,1151.95 L1855.91,1152.91 L1856.13,1153.87 L1856.36,1154.83 L1856.58,1155.79 L1856.81,1156.75 L1857.03,1157.71 L1857.25,1158.67 L1857.47,1159.63 L1857.69,1160.59 L1857.91,1161.55 L1858.13,1162.51 L1858.17,1162.67" fill="none" stroke="#D95319" stroke-width="10.0" stroke-linejoin="round"/>
<path d="M1863.46,1186.41 L1863.67,1187.37 L1863.88,1188.34 L1864.09,1189.30 L1864.30,1190.26 L1864.50,1191.23 L1864.71,1192.19 L1864.92,1193.16 L1865.12,1194.12 L1865.33,1195.09 L1865.53,1196.05 L1865.74,1197.02 L1865.94,1197.98 L1866.15,1198.94 L1866.35,1199.91 L1866.55,1200.87 L1866.75,1201.84 L1866.95,1202.80 L1867.16,1203.77 L1867.36,1204.74 L1867.56,1205.70 L1867.76,1206.67 L1867.96,1207.63 L1868.15,1208.60 L1868.35,1209.56 L1868.55,1210.53 L1868.75,1211.50 L1868.94,1212.46 L1869.14,1213.43 L1869.34,1214.39 L1869.53,1215.36 L1869.72,1216.33 L1869.79,1216.65" fill="none" stroke="#D95319" stroke-width="10.0" stroke-linejoin="round"/>
<path d="M1875.67,1247.14 L1875.85,1248.11 L1876.03,1249.08 L1876.21,1250.05 L1876.39,1251.02 L1876.57,1251.99 L1876.75,1252.96 L1876.93,1253.93 L1877.11,1254.90 L1877.28,1255.87 L1877.46,1256.84 L1877.64,1257.81 L1877.82,1258.78 L1878.00,1259.75 L1878.17,1260.72 L1878.35,1261.69 L1878.53,1262.66 L1878.70,1263.63 L1878.88,1264.60 L1879.06,1265.57 L1879.23,1266.54 L1879.41,1267.51 L1879.59,1268.48 L1879.76,1269.45 L1879.94,1270.42 L1880.11,1271.39 L1880.29,1272.36 L1880.46,1273.33 L1880.64,1274.30 L1880.81,1275.27 L1880.99,1276.24 L1881.17,1277.21 L1881.19,1277.37" fill="none" stroke="#D95319" stroke-width="10.0" stroke-linejoin="round"/>
<path d="M1886.61,1308.12 L1886.78,1309.09 L1886.95,1310.06 L1887.11,1311.03 L1887.28,1312.01 L1887.44,1312.98 L1887.61,1313.95 L1887.78,1314.92 L1887.94,1315.89 L1888.11,1316.87 L1888.27,1317.84 L1888.30,1318.00" fill="none" stroke="#D95319" stroke-width="10.0" stroke-linejoin="round"/>
<line x1="1887.70" y1="760.00" x2="1887.70" y2="1323.50" stroke="#000" stroke-width="3.1" />
<circle cx="927.3" cy="1187.0" r="17.0" fill="#0072BD"/>
<circle cx="926.3" cy="1187.2" r="16.7" fill="#D95319"/>
<text transform="translate(313.10,106.60) scale(1,1)" font-size="82" text-anchor="end" fill="#000" >100</text>
<text transform="translate(311.60,391.70) scale(1,1)" font-size="82" text-anchor="end" fill="#000" >0</text>
<text transform="translate(309.70,677.50) scale(1,1)" font-size="82" text-anchor="end" fill="#000" >-100</text>
<text transform="translate(313.10,793.90) scale(1,1)" font-size="82" text-anchor="end" fill="#000" >180</text>
<text transform="translate(311.60,1070.10) scale(1,1)" font-size="82" text-anchor="end" fill="#000" >0</text>
<text transform="translate(309.70,1345.80) scale(1,1)" font-size="82" text-anchor="end" fill="#000" >-180</text>
<text transform="translate(268.25,1450.20) scale(1,1.01)" font-size="82" text-anchor="start" fill="#000" >10</text>
<text transform="translate(349.95,1412.80) scale(1,1.01)" font-size="66.5" text-anchor="start" fill="#000" >-4</text>
<text transform="translate(675.18,1450.20) scale(1,1.01)" font-size="82" text-anchor="start" fill="#000" >10</text>
<text transform="translate(758.88,1412.80) scale(1,1.01)" font-size="66.5" text-anchor="start" fill="#000" >-2</text>
<text transform="translate(1093.17,1450.20) scale(1,1.01)" font-size="82" text-anchor="start" fill="#000" >10</text>
<text transform="translate(1176.88,1412.80) scale(1,1.01)" font-size="66.5" text-anchor="start" fill="#000" >0</text>
<text transform="translate(1500.10,1450.20) scale(1,1.01)" font-size="82" text-anchor="start" fill="#000" >10</text>
<text transform="translate(1583.80,1412.80) scale(1,1.01)" font-size="66.5" text-anchor="start" fill="#000" >2</text>
<text transform="translate(1907.02,1450.20) scale(1,1.01)" font-size="82" text-anchor="start" fill="#000" >10</text>
<text transform="translate(1990.72,1412.80) scale(1,1.01)" font-size="66.5" text-anchor="start" fill="#000" >4</text>
<text transform="translate(1148.45,1552.10) scale(1,1)" font-size="91" text-anchor="middle" fill="#000" >Frequency  (Hz)</text>
<text transform="translate(124.8,396.70) rotate(-90)" font-size="94.0" letter-spacing="-0.6" text-anchor="middle">Magnitude (dB)</text>
<text transform="translate(124.8,1043.40) rotate(-90)" font-size="94.0" letter-spacing="-0.6" text-anchor="middle">Phase (deg)</text>
<text transform="translate(1474.60,363.80) scale(1,1.01)" font-size="72" text-anchor="start" fill="#231F20" >MG = 63.4 dB</text>
<text transform="translate(1545.30,444.20) scale(1,1.01)" font-size="72" text-anchor="start" fill="#231F20" >at 122 Hz</text>
<text transform="translate(1167.20,626.70) scale(1,1.01)" font-size="72" text-anchor="start" fill="#231F20" >MG = 95.4 dB</text>
<text transform="translate(1210.50,706.70) scale(1,1.01)" font-size="72" text-anchor="start" fill="#231F20" >at 4.05 kHz</text>
<text transform="translate(1080.00,1004.10) scale(1,1.01)" font-size="72" text-anchor="start" fill="#231F20" >PM= 85.3º</text>
<text transform="translate(1050.30,1084.00) scale(1,1.01)" font-size="72" text-anchor="start" fill="#231F20" letter-spacing="0.3">at 0.0442 Hz</text>
<line x1="1728.60" y1="458.10" x2="1621.70" y2="499.95" stroke="#231F20" stroke-width="7.6" />
<polygon points="1587.80,512.30 1614.90,481.70 1628.50,518.20" fill="#231F20"/>
<line x1="1563.70" y1="688.90" x2="1840.65" y2="635.55" stroke="#231F20" stroke-width="7.6" />
<polygon points="1875.40,628.80 1836.80,616.30 1844.50,654.80" fill="#231F20"/>
<line x1="1051.40" y1="1087.10" x2="960.05" y2="1137.50" stroke="#231F20" stroke-width="7.6" />
<polygon points="928.70,1155.00 950.40,1120.50 969.70,1154.50" fill="#231F20"/>
</svg>
</body>
</html>
